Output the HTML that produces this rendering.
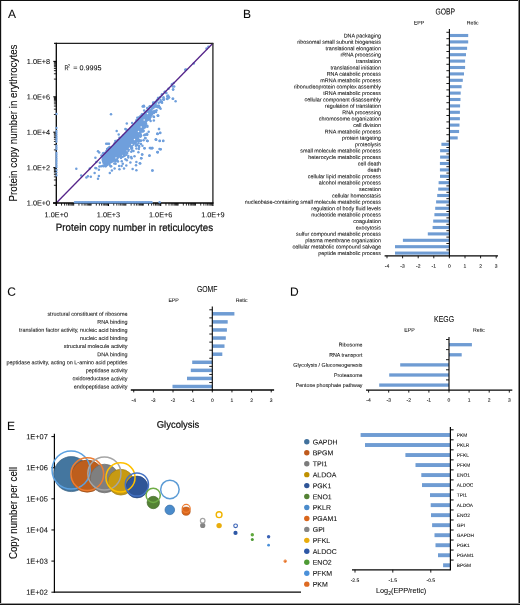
<!DOCTYPE html>
<html><head><meta charset="utf-8"><style>
html,body{margin:0;padding:0;background:#fff;}
svg{display:block;will-change:transform;font-family:"Liberation Sans",sans-serif;}
text{stroke:#0a0a0a;stroke-width:0.06px;}
</style></head><body>
<svg width="520" height="605" viewBox="0 0 520 605">
<rect x="0" y="0" width="520" height="605" fill="#fff"/>
<rect x="0" y="0" width="520" height="1" fill="#111"/>
<rect x="0" y="0" width="1" height="605" fill="#111"/>
<rect x="1" y="1" width="0.4" height="604" fill="#999"/>
<rect x="518" y="0" width="1" height="605" fill="#888"/>
<rect x="519" y="0" width="1" height="605" fill="#111"/>
<rect x="0" y="603" width="520" height="1" fill="#999"/>
<rect x="0" y="604" width="520" height="1" fill="#111"/>
<text x="7.9" y="18.1" font-size="12" text-anchor="start" fill="#0a0a0a" transform="matrix(1 0.000873 0 1 0 -0.0069)">A</text>
<text x="243" y="18" font-size="12" text-anchor="start" fill="#0a0a0a" transform="matrix(1 0.000873 0 1 0 -0.2121)">B</text>
<text x="7.3" y="295.85" font-size="12" text-anchor="start" fill="#0a0a0a" transform="matrix(1 0.000873 0 1 0 -0.0064)">C</text>
<text x="290.1" y="295.85" font-size="12" text-anchor="start" fill="#0a0a0a" transform="matrix(1 0.000873 0 1 0 -0.2532)">D</text>
<text x="7.1" y="430.1" font-size="12" text-anchor="start" fill="#0a0a0a" transform="matrix(1 0.000873 0 1 0 -0.0062)">E</text>
<polygon points="102,155.8 158.5,98.3 156.5,102 153.5,105 153,108 151.5,112 151.5,115.5 148.5,118 147.5,121.5 145,125 144,128.7 141.5,133 139.5,137.5 137,141.5 134,145.5 130.5,148.7 128.5,151.5 125,154.4 121.5,157 116,160.5 112,163 108,165 105,166 102.5,163.5 101.5,160 101.6,157.5" fill="#6f9fdc"/>
<circle cx="208.3" cy="46.7" r="1.25" fill="#6f9fdc" stroke="none" stroke-width="1"/>
<circle cx="206.5" cy="48.5" r="1.25" fill="#6f9fdc" stroke="none" stroke-width="1"/>
<circle cx="193.8" cy="63.5" r="1.25" fill="#6f9fdc" stroke="none" stroke-width="1"/>
<circle cx="185.2" cy="69.8" r="1.25" fill="#6f9fdc" stroke="none" stroke-width="1"/>
<circle cx="186" cy="69.4" r="1.25" fill="#6f9fdc" stroke="none" stroke-width="1"/>
<circle cx="171.9" cy="84.2" r="1.25" fill="#6f9fdc" stroke="none" stroke-width="1"/>
<circle cx="173.7" cy="83.1" r="1.25" fill="#6f9fdc" stroke="none" stroke-width="1"/>
<circle cx="174.2" cy="86.5" r="1.25" fill="#6f9fdc" stroke="none" stroke-width="1"/>
<circle cx="173.1" cy="89.4" r="1.25" fill="#6f9fdc" stroke="none" stroke-width="1"/>
<circle cx="168.5" cy="88.8" r="1.25" fill="#6f9fdc" stroke="none" stroke-width="1"/>
<circle cx="165" cy="91.7" r="1.25" fill="#6f9fdc" stroke="none" stroke-width="1"/>
<circle cx="166.2" cy="92.9" r="1.25" fill="#6f9fdc" stroke="none" stroke-width="1"/>
<circle cx="162.1" cy="94.6" r="1.25" fill="#6f9fdc" stroke="none" stroke-width="1"/>
<circle cx="167.9" cy="95.8" r="1.25" fill="#6f9fdc" stroke="none" stroke-width="1"/>
<circle cx="169" cy="97.5" r="1.25" fill="#6f9fdc" stroke="none" stroke-width="1"/>
<circle cx="167.3" cy="98.7" r="1.25" fill="#6f9fdc" stroke="none" stroke-width="1"/>
<circle cx="173.1" cy="98.7" r="1.25" fill="#6f9fdc" stroke="none" stroke-width="1"/>
<circle cx="175.6" cy="101.3" r="1.25" fill="#6f9fdc" stroke="none" stroke-width="1"/>
<circle cx="161.5" cy="101.5" r="1.25" fill="#6f9fdc" stroke="none" stroke-width="1"/>
<circle cx="163.3" cy="99.2" r="1.25" fill="#6f9fdc" stroke="none" stroke-width="1"/>
<circle cx="158.1" cy="98.1" r="1.25" fill="#6f9fdc" stroke="none" stroke-width="1"/>
<circle cx="160.4" cy="96.9" r="1.25" fill="#6f9fdc" stroke="none" stroke-width="1"/>
<circle cx="155.8" cy="102.7" r="1.25" fill="#6f9fdc" stroke="none" stroke-width="1"/>
<circle cx="156.9" cy="100.4" r="1.25" fill="#6f9fdc" stroke="none" stroke-width="1"/>
<circle cx="167.3" cy="96.2" r="1.25" fill="#6f9fdc" stroke="none" stroke-width="1"/>
<circle cx="168.5" cy="97.3" r="1.25" fill="#6f9fdc" stroke="none" stroke-width="1"/>
<circle cx="167.3" cy="99" r="1.25" fill="#6f9fdc" stroke="none" stroke-width="1"/>
<circle cx="163.8" cy="99.6" r="1.25" fill="#6f9fdc" stroke="none" stroke-width="1"/>
<circle cx="161.5" cy="101.9" r="1.25" fill="#6f9fdc" stroke="none" stroke-width="1"/>
<circle cx="158.7" cy="106" r="1.25" fill="#6f9fdc" stroke="none" stroke-width="1"/>
<circle cx="159.8" cy="107.7" r="1.25" fill="#6f9fdc" stroke="none" stroke-width="1"/>
<circle cx="154.6" cy="111.7" r="1.25" fill="#6f9fdc" stroke="none" stroke-width="1"/>
<circle cx="158.1" cy="115.8" r="1.25" fill="#6f9fdc" stroke="none" stroke-width="1"/>
<circle cx="154" cy="116.9" r="1.25" fill="#6f9fdc" stroke="none" stroke-width="1"/>
<circle cx="150.6" cy="121" r="1.25" fill="#6f9fdc" stroke="none" stroke-width="1"/>
<circle cx="159" cy="129" r="1.25" fill="#6f9fdc" stroke="none" stroke-width="1"/>
<circle cx="160.2" cy="132.8" r="1.25" fill="#6f9fdc" stroke="none" stroke-width="1"/>
<circle cx="157.5" cy="133.7" r="1.25" fill="#6f9fdc" stroke="none" stroke-width="1"/>
<circle cx="155.8" cy="139.4" r="1.25" fill="#6f9fdc" stroke="none" stroke-width="1"/>
<circle cx="159.8" cy="140.8" r="1.25" fill="#6f9fdc" stroke="none" stroke-width="1"/>
<circle cx="163.3" cy="140.8" r="1.25" fill="#6f9fdc" stroke="none" stroke-width="1"/>
<circle cx="152.3" cy="148.1" r="1.25" fill="#6f9fdc" stroke="none" stroke-width="1"/>
<circle cx="150.6" cy="148.1" r="1.25" fill="#6f9fdc" stroke="none" stroke-width="1"/>
<circle cx="160.6" cy="149.2" r="1.25" fill="#6f9fdc" stroke="none" stroke-width="1"/>
<circle cx="157.5" cy="152.1" r="1.25" fill="#6f9fdc" stroke="none" stroke-width="1"/>
<circle cx="143.2" cy="106.3" r="1.25" fill="#6f9fdc" stroke="none" stroke-width="1"/>
<circle cx="144.1" cy="106.5" r="1.25" fill="#6f9fdc" stroke="none" stroke-width="1"/>
<circle cx="111" cy="114.2" r="1.25" fill="#6f9fdc" stroke="none" stroke-width="1"/>
<circle cx="126.8" cy="123.4" r="1.25" fill="#6f9fdc" stroke="none" stroke-width="1"/>
<circle cx="116.7" cy="131" r="1.25" fill="#6f9fdc" stroke="none" stroke-width="1"/>
<circle cx="125.4" cy="129.1" r="1.25" fill="#6f9fdc" stroke="none" stroke-width="1"/>
<circle cx="118.7" cy="134.4" r="1.25" fill="#6f9fdc" stroke="none" stroke-width="1"/>
<circle cx="132.1" cy="122.9" r="1.25" fill="#6f9fdc" stroke="none" stroke-width="1"/>
<circle cx="138.8" cy="117.6" r="1.25" fill="#6f9fdc" stroke="none" stroke-width="1"/>
<circle cx="141.7" cy="114.7" r="1.25" fill="#6f9fdc" stroke="none" stroke-width="1"/>
<circle cx="147.5" cy="108.5" r="1.25" fill="#6f9fdc" stroke="none" stroke-width="1"/>
<circle cx="150.4" cy="106.5" r="1.25" fill="#6f9fdc" stroke="none" stroke-width="1"/>
<circle cx="158.1" cy="115.7" r="1.25" fill="#6f9fdc" stroke="none" stroke-width="1"/>
<circle cx="159" cy="129.1" r="1.25" fill="#6f9fdc" stroke="none" stroke-width="1"/>
<circle cx="157.6" cy="133.9" r="1.25" fill="#6f9fdc" stroke="none" stroke-width="1"/>
<circle cx="156.2" cy="139.7" r="1.25" fill="#6f9fdc" stroke="none" stroke-width="1"/>
<circle cx="147" cy="134.4" r="1.25" fill="#6f9fdc" stroke="none" stroke-width="1"/>
<circle cx="145.1" cy="138.3" r="1.25" fill="#6f9fdc" stroke="none" stroke-width="1"/>
<circle cx="147" cy="140.7" r="1.25" fill="#6f9fdc" stroke="none" stroke-width="1"/>
<circle cx="154.2" cy="112.3" r="1.25" fill="#6f9fdc" stroke="none" stroke-width="1"/>
<circle cx="155" cy="111.5" r="1.25" fill="#6f9fdc" stroke="none" stroke-width="1"/>
<circle cx="147.5" cy="141" r="1.25" fill="#6f9fdc" stroke="none" stroke-width="1"/>
<circle cx="144.6" cy="148.2" r="1.25" fill="#6f9fdc" stroke="none" stroke-width="1"/>
<circle cx="150.9" cy="148.2" r="1.25" fill="#6f9fdc" stroke="none" stroke-width="1"/>
<circle cx="152" cy="148.2" r="1.25" fill="#6f9fdc" stroke="none" stroke-width="1"/>
<circle cx="159.5" cy="149.1" r="1.25" fill="#6f9fdc" stroke="none" stroke-width="1"/>
<circle cx="138.8" cy="149.1" r="1.25" fill="#6f9fdc" stroke="none" stroke-width="1"/>
<circle cx="138.4" cy="152.3" r="1.25" fill="#6f9fdc" stroke="none" stroke-width="1"/>
<circle cx="142.2" cy="154.6" r="1.25" fill="#6f9fdc" stroke="none" stroke-width="1"/>
<circle cx="149.4" cy="155.7" r="1.25" fill="#6f9fdc" stroke="none" stroke-width="1"/>
<circle cx="157.6" cy="152.2" r="1.25" fill="#6f9fdc" stroke="none" stroke-width="1"/>
<circle cx="134.5" cy="156.3" r="1.25" fill="#6f9fdc" stroke="none" stroke-width="1"/>
<circle cx="131.2" cy="157.1" r="1.25" fill="#6f9fdc" stroke="none" stroke-width="1"/>
<circle cx="128.3" cy="157.6" r="1.25" fill="#6f9fdc" stroke="none" stroke-width="1"/>
<circle cx="125.4" cy="159.2" r="1.25" fill="#6f9fdc" stroke="none" stroke-width="1"/>
<circle cx="126.8" cy="160.2" r="1.25" fill="#6f9fdc" stroke="none" stroke-width="1"/>
<circle cx="141.3" cy="158.3" r="1.25" fill="#6f9fdc" stroke="none" stroke-width="1"/>
<circle cx="136.4" cy="162.1" r="1.25" fill="#6f9fdc" stroke="none" stroke-width="1"/>
<circle cx="139.8" cy="163.3" r="1.25" fill="#6f9fdc" stroke="none" stroke-width="1"/>
<circle cx="130.4" cy="162.6" r="1.25" fill="#6f9fdc" stroke="none" stroke-width="1"/>
<circle cx="136" cy="165.3" r="1.25" fill="#6f9fdc" stroke="none" stroke-width="1"/>
<circle cx="126.3" cy="165.5" r="1.25" fill="#6f9fdc" stroke="none" stroke-width="1"/>
<circle cx="119.1" cy="166" r="1.25" fill="#6f9fdc" stroke="none" stroke-width="1"/>
<circle cx="124" cy="168.6" r="1.25" fill="#6f9fdc" stroke="none" stroke-width="1"/>
<circle cx="132.6" cy="169" r="1.25" fill="#6f9fdc" stroke="none" stroke-width="1"/>
<circle cx="136.4" cy="170.3" r="1.25" fill="#6f9fdc" stroke="none" stroke-width="1"/>
<circle cx="111.9" cy="170.6" r="1.25" fill="#6f9fdc" stroke="none" stroke-width="1"/>
<circle cx="152.3" cy="170.6" r="1.25" fill="#6f9fdc" stroke="none" stroke-width="1"/>
<circle cx="106.2" cy="143.7" r="1.25" fill="#6f9fdc" stroke="none" stroke-width="1"/>
<circle cx="107.6" cy="143.7" r="1.25" fill="#6f9fdc" stroke="none" stroke-width="1"/>
<circle cx="109" cy="143.7" r="1.25" fill="#6f9fdc" stroke="none" stroke-width="1"/>
<circle cx="107.1" cy="149.1" r="1.25" fill="#6f9fdc" stroke="none" stroke-width="1"/>
<circle cx="98" cy="151.3" r="1.25" fill="#6f9fdc" stroke="none" stroke-width="1"/>
<circle cx="99.2" cy="152.5" r="1.25" fill="#6f9fdc" stroke="none" stroke-width="1"/>
<circle cx="95.4" cy="157.8" r="1.25" fill="#6f9fdc" stroke="none" stroke-width="1"/>
<circle cx="96.3" cy="161.9" r="1.25" fill="#6f9fdc" stroke="none" stroke-width="1"/>
<circle cx="99.9" cy="162.8" r="1.25" fill="#6f9fdc" stroke="none" stroke-width="1"/>
<circle cx="99.4" cy="166.4" r="1.25" fill="#6f9fdc" stroke="none" stroke-width="1"/>
<circle cx="95.4" cy="167.9" r="1.25" fill="#6f9fdc" stroke="none" stroke-width="1"/>
<circle cx="96.2" cy="168.2" r="1.25" fill="#6f9fdc" stroke="none" stroke-width="1"/>
<circle cx="98.9" cy="169.8" r="1.25" fill="#6f9fdc" stroke="none" stroke-width="1"/>
<circle cx="89.8" cy="168.4" r="1.25" fill="#6f9fdc" stroke="none" stroke-width="1"/>
<circle cx="76.3" cy="168.8" r="1.25" fill="#6f9fdc" stroke="none" stroke-width="1"/>
<circle cx="94.6" cy="173" r="1.25" fill="#6f9fdc" stroke="none" stroke-width="1"/>
<circle cx="81.2" cy="175.6" r="1.25" fill="#6f9fdc" stroke="none" stroke-width="1"/>
<circle cx="87.9" cy="176.3" r="1.25" fill="#6f9fdc" stroke="none" stroke-width="1"/>
<circle cx="86.4" cy="177.5" r="1.25" fill="#6f9fdc" stroke="none" stroke-width="1"/>
<circle cx="90.8" cy="176.8" r="1.25" fill="#6f9fdc" stroke="none" stroke-width="1"/>
<circle cx="98.9" cy="176.1" r="1.25" fill="#6f9fdc" stroke="none" stroke-width="1"/>
<circle cx="98" cy="178.7" r="1.25" fill="#6f9fdc" stroke="none" stroke-width="1"/>
<circle cx="148.7" cy="131.7" r="1.25" fill="#6f9fdc" stroke="none" stroke-width="1"/>
<circle cx="147.2" cy="134.8" r="1.25" fill="#6f9fdc" stroke="none" stroke-width="1"/>
<circle cx="157.3" cy="133.8" r="1.25" fill="#6f9fdc" stroke="none" stroke-width="1"/>
<circle cx="160.2" cy="132.9" r="1.25" fill="#6f9fdc" stroke="none" stroke-width="1"/>
<circle cx="145.5" cy="138.1" r="1.25" fill="#6f9fdc" stroke="none" stroke-width="1"/>
<circle cx="147.5" cy="141" r="1.25" fill="#6f9fdc" stroke="none" stroke-width="1"/>
<circle cx="155.9" cy="139.6" r="1.25" fill="#6f9fdc" stroke="none" stroke-width="1"/>
<circle cx="159.6" cy="141" r="1.25" fill="#6f9fdc" stroke="none" stroke-width="1"/>
<circle cx="163.1" cy="141" r="1.25" fill="#6f9fdc" stroke="none" stroke-width="1"/>
<circle cx="140.6" cy="141" r="1.25" fill="#6f9fdc" stroke="none" stroke-width="1"/>
<circle cx="144.4" cy="148.2" r="1.25" fill="#6f9fdc" stroke="none" stroke-width="1"/>
<circle cx="149.8" cy="147.9" r="1.25" fill="#6f9fdc" stroke="none" stroke-width="1"/>
<circle cx="152.1" cy="147.9" r="1.25" fill="#6f9fdc" stroke="none" stroke-width="1"/>
<circle cx="160.5" cy="149.3" r="1.25" fill="#6f9fdc" stroke="none" stroke-width="1"/>
<circle cx="157.7" cy="152.2" r="1.25" fill="#6f9fdc" stroke="none" stroke-width="1"/>
<circle cx="142.1" cy="154.5" r="1.25" fill="#6f9fdc" stroke="none" stroke-width="1"/>
<circle cx="149.5" cy="155.6" r="1.25" fill="#6f9fdc" stroke="none" stroke-width="1"/>
<circle cx="141.2" cy="158.3" r="1.25" fill="#6f9fdc" stroke="none" stroke-width="1"/>
<circle cx="140.2" cy="163.5" r="1.25" fill="#6f9fdc" stroke="none" stroke-width="1"/>
<circle cx="152.5" cy="170.6" r="1.25" fill="#6f9fdc" stroke="none" stroke-width="1"/>
<circle cx="172.7" cy="86.5" r="1.25" fill="#6f9fdc" stroke="none" stroke-width="1"/>
<circle cx="173.1" cy="89.6" r="1.25" fill="#6f9fdc" stroke="none" stroke-width="1"/>
<circle cx="164.6" cy="91.9" r="1.25" fill="#6f9fdc" stroke="none" stroke-width="1"/>
<circle cx="166.2" cy="93.1" r="1.25" fill="#6f9fdc" stroke="none" stroke-width="1"/>
<circle cx="161.9" cy="94.6" r="1.25" fill="#6f9fdc" stroke="none" stroke-width="1"/>
<circle cx="168.1" cy="95.8" r="1.25" fill="#6f9fdc" stroke="none" stroke-width="1"/>
<circle cx="168.8" cy="97.3" r="1.25" fill="#6f9fdc" stroke="none" stroke-width="1"/>
<circle cx="163.5" cy="97.3" r="1.25" fill="#6f9fdc" stroke="none" stroke-width="1"/>
<circle cx="166.9" cy="98.8" r="1.25" fill="#6f9fdc" stroke="none" stroke-width="1"/>
<circle cx="163.8" cy="99.6" r="1.25" fill="#6f9fdc" stroke="none" stroke-width="1"/>
<circle cx="172.7" cy="98.8" r="1.25" fill="#6f9fdc" stroke="none" stroke-width="1"/>
<circle cx="161.5" cy="101.9" r="1.25" fill="#6f9fdc" stroke="none" stroke-width="1"/>
<circle cx="158.1" cy="98.8" r="1.25" fill="#6f9fdc" stroke="none" stroke-width="1"/>
<circle cx="158.8" cy="105.8" r="1.25" fill="#6f9fdc" stroke="none" stroke-width="1"/>
<circle cx="159.6" cy="107.3" r="1.25" fill="#6f9fdc" stroke="none" stroke-width="1"/>
<circle cx="143.8" cy="105.8" r="1.25" fill="#6f9fdc" stroke="none" stroke-width="1"/>
<circle cx="142.7" cy="106.5" r="1.25" fill="#6f9fdc" stroke="none" stroke-width="1"/>
<circle cx="147.3" cy="108.1" r="1.25" fill="#6f9fdc" stroke="none" stroke-width="1"/>
<circle cx="144.2" cy="110.4" r="1.25" fill="#6f9fdc" stroke="none" stroke-width="1"/>
<circle cx="149.6" cy="106.5" r="1.25" fill="#6f9fdc" stroke="none" stroke-width="1"/>
<circle cx="154.6" cy="111.5" r="1.25" fill="#6f9fdc" stroke="none" stroke-width="1"/>
<circle cx="153.5" cy="116.5" r="1.25" fill="#6f9fdc" stroke="none" stroke-width="1"/>
<circle cx="157.7" cy="115.6" r="1.25" fill="#6f9fdc" stroke="none" stroke-width="1"/>
<circle cx="137.3" cy="117.7" r="1.25" fill="#6f9fdc" stroke="none" stroke-width="1"/>
<circle cx="141.2" cy="126.9" r="0.75" fill="#fff" stroke="none" stroke-width="1"/>
<circle cx="138.5" cy="131.5" r="0.75" fill="#fff" stroke="none" stroke-width="1"/>
<circle cx="134.5" cy="139.5" r="0.75" fill="#fff" stroke="none" stroke-width="1"/>
<circle cx="131.9" cy="144.6" r="0.75" fill="#fff" stroke="none" stroke-width="1"/>
<circle cx="127.3" cy="150.8" r="0.75" fill="#fff" stroke="none" stroke-width="1"/>
<circle cx="144.2" cy="120" r="0.75" fill="#fff" stroke="none" stroke-width="1"/>
<circle cx="140.2" cy="134.6" r="0.75" fill="#fff" stroke="none" stroke-width="1"/>
<circle cx="122.7" cy="155.4" r="0.75" fill="#fff" stroke="none" stroke-width="1"/>
<circle cx="116" cy="157.9" r="0.75" fill="#fff" stroke="none" stroke-width="1"/>
<circle cx="147.5" cy="113.5" r="0.75" fill="#fff" stroke="none" stroke-width="1"/>
<circle cx="150.5" cy="108.5" r="0.75" fill="#fff" stroke="none" stroke-width="1"/>
<circle cx="136.2" cy="143.3" r="0.75" fill="#fff" stroke="none" stroke-width="1"/>
<circle cx="129.5" cy="148.2" r="0.75" fill="#fff" stroke="none" stroke-width="1"/>
<circle cx="119.5" cy="158.4" r="0.75" fill="#fff" stroke="none" stroke-width="1"/>
<circle cx="119.45" cy="137.66" r="1.25" fill="#6f9fdc" stroke="none" stroke-width="1"/>
<circle cx="104.83" cy="152.9" r="1.25" fill="#6f9fdc" stroke="none" stroke-width="1"/>
<circle cx="103.86" cy="153.05" r="1.25" fill="#6f9fdc" stroke="none" stroke-width="1"/>
<circle cx="126.06" cy="129.43" r="1.25" fill="#6f9fdc" stroke="none" stroke-width="1"/>
<circle cx="127.39" cy="130.08" r="1.25" fill="#6f9fdc" stroke="none" stroke-width="1"/>
<circle cx="114.41" cy="144.7" r="1.25" fill="#6f9fdc" stroke="none" stroke-width="1"/>
<circle cx="135.77" cy="122.39" r="1.25" fill="#6f9fdc" stroke="none" stroke-width="1"/>
<circle cx="104.03" cy="154.36" r="1.25" fill="#6f9fdc" stroke="none" stroke-width="1"/>
<circle cx="108.24" cy="148.22" r="1.25" fill="#6f9fdc" stroke="none" stroke-width="1"/>
<circle cx="150.05" cy="106.37" r="1.25" fill="#6f9fdc" stroke="none" stroke-width="1"/>
<circle cx="139.54" cy="117.5" r="1.25" fill="#6f9fdc" stroke="none" stroke-width="1"/>
<circle cx="103.04" cy="153.14" r="1.25" fill="#6f9fdc" stroke="none" stroke-width="1"/>
<circle cx="142.25" cy="114.34" r="1.25" fill="#6f9fdc" stroke="none" stroke-width="1"/>
<circle cx="136.44" cy="120.3" r="1.25" fill="#6f9fdc" stroke="none" stroke-width="1"/>
<circle cx="150" cy="106.97" r="1.25" fill="#6f9fdc" stroke="none" stroke-width="1"/>
<circle cx="135.93" cy="122.33" r="1.25" fill="#6f9fdc" stroke="none" stroke-width="1"/>
<circle cx="144.95" cy="112.77" r="1.25" fill="#6f9fdc" stroke="none" stroke-width="1"/>
<circle cx="107.37" cy="150.91" r="1.25" fill="#6f9fdc" stroke="none" stroke-width="1"/>
<circle cx="109.65" cy="147.12" r="1.25" fill="#6f9fdc" stroke="none" stroke-width="1"/>
<circle cx="142.34" cy="115.7" r="1.25" fill="#6f9fdc" stroke="none" stroke-width="1"/>
<circle cx="154.06" cy="102.88" r="1.25" fill="#6f9fdc" stroke="none" stroke-width="1"/>
<circle cx="137.3" cy="120.1" r="1.25" fill="#6f9fdc" stroke="none" stroke-width="1"/>
<circle cx="153.44" cy="104.62" r="1.25" fill="#6f9fdc" stroke="none" stroke-width="1"/>
<circle cx="140.33" cy="116.26" r="1.25" fill="#6f9fdc" stroke="none" stroke-width="1"/>
<circle cx="141.6" cy="117.61" r="1.25" fill="#6f9fdc" stroke="none" stroke-width="1"/>
<circle cx="117.61" cy="140.18" r="1.25" fill="#6f9fdc" stroke="none" stroke-width="1"/>
<circle cx="101.55" cy="155.59" r="1.25" fill="#6f9fdc" stroke="none" stroke-width="1"/>
<circle cx="106.41" cy="151" r="1.25" fill="#6f9fdc" stroke="none" stroke-width="1"/>
<circle cx="107.64" cy="149.36" r="1.25" fill="#6f9fdc" stroke="none" stroke-width="1"/>
<circle cx="153.23" cy="102.57" r="1.25" fill="#6f9fdc" stroke="none" stroke-width="1"/>
<circle cx="135.27" cy="123.78" r="1.25" fill="#6f9fdc" stroke="none" stroke-width="1"/>
<circle cx="153.26" cy="102.96" r="1.25" fill="#6f9fdc" stroke="none" stroke-width="1"/>
<circle cx="123.45" cy="136.15" r="1.25" fill="#6f9fdc" stroke="none" stroke-width="1"/>
<circle cx="108.8" cy="147.63" r="1.25" fill="#6f9fdc" stroke="none" stroke-width="1"/>
<circle cx="114.68" cy="143.24" r="1.25" fill="#6f9fdc" stroke="none" stroke-width="1"/>
<circle cx="115.3" cy="140.99" r="1.25" fill="#6f9fdc" stroke="none" stroke-width="1"/>
<circle cx="123.31" cy="135.48" r="1.25" fill="#6f9fdc" stroke="none" stroke-width="1"/>
<circle cx="143.1" cy="114.4" r="1.25" fill="#6f9fdc" stroke="none" stroke-width="1"/>
<circle cx="141.06" cy="115.95" r="1.25" fill="#6f9fdc" stroke="none" stroke-width="1"/>
<circle cx="149.54" cy="109.15" r="1.25" fill="#6f9fdc" stroke="none" stroke-width="1"/>
<circle cx="143.2" cy="130.51" r="1.25" fill="#6f9fdc" stroke="none" stroke-width="1"/>
<circle cx="154.48" cy="106.47" r="1.25" fill="#6f9fdc" stroke="none" stroke-width="1"/>
<circle cx="154.87" cy="102.7" r="1.25" fill="#6f9fdc" stroke="none" stroke-width="1"/>
<circle cx="150.93" cy="115.4" r="1.25" fill="#6f9fdc" stroke="none" stroke-width="1"/>
<circle cx="144.1" cy="125.66" r="1.25" fill="#6f9fdc" stroke="none" stroke-width="1"/>
<circle cx="158.07" cy="98.09" r="1.25" fill="#6f9fdc" stroke="none" stroke-width="1"/>
<circle cx="153.42" cy="106.1" r="1.25" fill="#6f9fdc" stroke="none" stroke-width="1"/>
<circle cx="160.3" cy="102" r="1.25" fill="#6f9fdc" stroke="none" stroke-width="1"/>
<circle cx="131.32" cy="147.3" r="1.25" fill="#6f9fdc" stroke="none" stroke-width="1"/>
<circle cx="148.4" cy="118.55" r="1.25" fill="#6f9fdc" stroke="none" stroke-width="1"/>
<circle cx="143.66" cy="127.89" r="1.25" fill="#6f9fdc" stroke="none" stroke-width="1"/>
<circle cx="119.43" cy="169.15" r="1.25" fill="#6f9fdc" stroke="none" stroke-width="1"/>
<circle cx="140.39" cy="136.79" r="1.25" fill="#6f9fdc" stroke="none" stroke-width="1"/>
<circle cx="153.35" cy="104.32" r="1.25" fill="#6f9fdc" stroke="none" stroke-width="1"/>
<circle cx="144.53" cy="126.03" r="1.25" fill="#6f9fdc" stroke="none" stroke-width="1"/>
<circle cx="115.94" cy="160.01" r="1.25" fill="#6f9fdc" stroke="none" stroke-width="1"/>
<circle cx="162.07" cy="102.7" r="1.25" fill="#6f9fdc" stroke="none" stroke-width="1"/>
<circle cx="136.54" cy="141.31" r="1.25" fill="#6f9fdc" stroke="none" stroke-width="1"/>
<circle cx="135.49" cy="142.28" r="1.25" fill="#6f9fdc" stroke="none" stroke-width="1"/>
<circle cx="142.44" cy="145.72" r="1.25" fill="#6f9fdc" stroke="none" stroke-width="1"/>
<circle cx="114.27" cy="163.45" r="1.25" fill="#6f9fdc" stroke="none" stroke-width="1"/>
<circle cx="148.23" cy="119.37" r="1.25" fill="#6f9fdc" stroke="none" stroke-width="1"/>
<circle cx="153.54" cy="112.71" r="1.25" fill="#6f9fdc" stroke="none" stroke-width="1"/>
<circle cx="138.46" cy="143.26" r="1.25" fill="#6f9fdc" stroke="none" stroke-width="1"/>
<circle cx="144.82" cy="124.74" r="1.25" fill="#6f9fdc" stroke="none" stroke-width="1"/>
<circle cx="121.63" cy="165.91" r="1.25" fill="#6f9fdc" stroke="none" stroke-width="1"/>
<circle cx="115.6" cy="163.68" r="1.25" fill="#6f9fdc" stroke="none" stroke-width="1"/>
<circle cx="118.03" cy="161.45" r="1.25" fill="#6f9fdc" stroke="none" stroke-width="1"/>
<circle cx="150.34" cy="117.33" r="1.25" fill="#6f9fdc" stroke="none" stroke-width="1"/>
<circle cx="143.68" cy="127.06" r="1.25" fill="#6f9fdc" stroke="none" stroke-width="1"/>
<circle cx="157.12" cy="100.54" r="1.25" fill="#6f9fdc" stroke="none" stroke-width="1"/>
<circle cx="149.67" cy="119.59" r="1.25" fill="#6f9fdc" stroke="none" stroke-width="1"/>
<circle cx="105.65" cy="166.19" r="1.25" fill="#6f9fdc" stroke="none" stroke-width="1"/>
<circle cx="109.81" cy="172.88" r="1.25" fill="#6f9fdc" stroke="none" stroke-width="1"/>
<circle cx="105.69" cy="165.88" r="1.25" fill="#6f9fdc" stroke="none" stroke-width="1"/>
<circle cx="150.19" cy="116.22" r="1.25" fill="#6f9fdc" stroke="none" stroke-width="1"/>
<circle cx="151.16" cy="114.74" r="1.25" fill="#6f9fdc" stroke="none" stroke-width="1"/>
<circle cx="133.52" cy="151.1" r="1.25" fill="#6f9fdc" stroke="none" stroke-width="1"/>
<circle cx="115.52" cy="161.4" r="1.25" fill="#6f9fdc" stroke="none" stroke-width="1"/>
<circle cx="131.24" cy="151.82" r="1.25" fill="#6f9fdc" stroke="none" stroke-width="1"/>
<circle cx="154.8" cy="105.63" r="1.25" fill="#6f9fdc" stroke="none" stroke-width="1"/>
<circle cx="110.6" cy="166.21" r="1.25" fill="#6f9fdc" stroke="none" stroke-width="1"/>
<circle cx="122.68" cy="156.75" r="1.25" fill="#6f9fdc" stroke="none" stroke-width="1"/>
<circle cx="153.81" cy="113.03" r="1.25" fill="#6f9fdc" stroke="none" stroke-width="1"/>
<circle cx="147.3" cy="125.79" r="1.25" fill="#6f9fdc" stroke="none" stroke-width="1"/>
<circle cx="104.24" cy="165.53" r="1.25" fill="#6f9fdc" stroke="none" stroke-width="1"/>
<circle cx="146.97" cy="133.68" r="1.25" fill="#6f9fdc" stroke="none" stroke-width="1"/>
<circle cx="124.04" cy="154.58" r="1.25" fill="#6f9fdc" stroke="none" stroke-width="1"/>
<circle cx="152.4" cy="108.26" r="1.25" fill="#6f9fdc" stroke="none" stroke-width="1"/>
<circle cx="111.12" cy="166.22" r="1.25" fill="#6f9fdc" stroke="none" stroke-width="1"/>
<circle cx="154.74" cy="111.06" r="1.25" fill="#6f9fdc" stroke="none" stroke-width="1"/>
<circle cx="102.86" cy="165.76" r="1.25" fill="#6f9fdc" stroke="none" stroke-width="1"/>
<circle cx="145.28" cy="126.99" r="1.25" fill="#6f9fdc" stroke="none" stroke-width="1"/>
<circle cx="151.99" cy="108.51" r="1.25" fill="#6f9fdc" stroke="none" stroke-width="1"/>
<circle cx="103.52" cy="166.35" r="1.25" fill="#6f9fdc" stroke="none" stroke-width="1"/>
<circle cx="140.94" cy="143.93" r="1.25" fill="#6f9fdc" stroke="none" stroke-width="1"/>
<circle cx="144.16" cy="135.15" r="1.25" fill="#6f9fdc" stroke="none" stroke-width="1"/>
<circle cx="116.22" cy="159.98" r="1.25" fill="#6f9fdc" stroke="none" stroke-width="1"/>
<circle cx="148.26" cy="118.47" r="1.25" fill="#6f9fdc" stroke="none" stroke-width="1"/>
<circle cx="149.54" cy="118.39" r="1.25" fill="#6f9fdc" stroke="none" stroke-width="1"/>
<circle cx="148.44" cy="119.26" r="1.25" fill="#6f9fdc" stroke="none" stroke-width="1"/>
<circle cx="156.47" cy="110.19" r="1.25" fill="#6f9fdc" stroke="none" stroke-width="1"/>
<circle cx="144.85" cy="127.2" r="1.25" fill="#6f9fdc" stroke="none" stroke-width="1"/>
<circle cx="136.4" cy="148.58" r="1.25" fill="#6f9fdc" stroke="none" stroke-width="1"/>
<circle cx="145.3" cy="134.8" r="1.25" fill="#6f9fdc" stroke="none" stroke-width="1"/>
<circle cx="138.87" cy="139.87" r="1.25" fill="#6f9fdc" stroke="none" stroke-width="1"/>
<circle cx="136.52" cy="140.82" r="1.25" fill="#6f9fdc" stroke="none" stroke-width="1"/>
<circle cx="140.54" cy="134.19" r="1.25" fill="#6f9fdc" stroke="none" stroke-width="1"/>
<circle cx="160.44" cy="99.77" r="1.25" fill="#6f9fdc" stroke="none" stroke-width="1"/>
<circle cx="151.98" cy="112.45" r="1.25" fill="#6f9fdc" stroke="none" stroke-width="1"/>
<circle cx="124.75" cy="155.61" r="1.25" fill="#6f9fdc" stroke="none" stroke-width="1"/>
<circle cx="145.8" cy="125.02" r="1.25" fill="#6f9fdc" stroke="none" stroke-width="1"/>
<circle cx="137.2" cy="145.01" r="1.25" fill="#6f9fdc" stroke="none" stroke-width="1"/>
<circle cx="154.08" cy="106.65" r="1.25" fill="#6f9fdc" stroke="none" stroke-width="1"/>
<circle cx="148.3" cy="118.15" r="1.25" fill="#6f9fdc" stroke="none" stroke-width="1"/>
<circle cx="121" cy="158.05" r="1.25" fill="#6f9fdc" stroke="none" stroke-width="1"/>
<circle cx="136.68" cy="145.35" r="1.25" fill="#6f9fdc" stroke="none" stroke-width="1"/>
<circle cx="109.54" cy="164.65" r="1.25" fill="#6f9fdc" stroke="none" stroke-width="1"/>
<circle cx="132.16" cy="148.01" r="1.25" fill="#6f9fdc" stroke="none" stroke-width="1"/>
<circle cx="139.06" cy="141.15" r="1.25" fill="#6f9fdc" stroke="none" stroke-width="1"/>
<circle cx="141.09" cy="135.7" r="1.25" fill="#6f9fdc" stroke="none" stroke-width="1"/>
<circle cx="143.57" cy="140.19" r="1.25" fill="#6f9fdc" stroke="none" stroke-width="1"/>
<circle cx="128.33" cy="156.03" r="1.25" fill="#6f9fdc" stroke="none" stroke-width="1"/>
<circle cx="106.74" cy="165.21" r="1.25" fill="#6f9fdc" stroke="none" stroke-width="1"/>
<circle cx="139.11" cy="146.92" r="1.25" fill="#6f9fdc" stroke="none" stroke-width="1"/>
<circle cx="115.02" cy="160.52" r="1.25" fill="#6f9fdc" stroke="none" stroke-width="1"/>
<circle cx="153.37" cy="108.01" r="1.25" fill="#6f9fdc" stroke="none" stroke-width="1"/>
<circle cx="154.47" cy="103.67" r="1.25" fill="#6f9fdc" stroke="none" stroke-width="1"/>
<circle cx="155.61" cy="104.89" r="1.25" fill="#6f9fdc" stroke="none" stroke-width="1"/>
<circle cx="121.75" cy="161.28" r="1.25" fill="#6f9fdc" stroke="none" stroke-width="1"/>
<circle cx="153.54" cy="111.45" r="1.25" fill="#6f9fdc" stroke="none" stroke-width="1"/>
<circle cx="128.47" cy="150.69" r="1.25" fill="#6f9fdc" stroke="none" stroke-width="1"/>
<circle cx="114.57" cy="168.48" r="1.25" fill="#6f9fdc" stroke="none" stroke-width="1"/>
<circle cx="153.82" cy="120.46" r="1.25" fill="#6f9fdc" stroke="none" stroke-width="1"/>
<circle cx="143.2" cy="131.14" r="1.25" fill="#6f9fdc" stroke="none" stroke-width="1"/>
<circle cx="101.21" cy="166.13" r="1.25" fill="#6f9fdc" stroke="none" stroke-width="1"/>
<circle cx="152.01" cy="111.58" r="1.25" fill="#6f9fdc" stroke="none" stroke-width="1"/>
<circle cx="137.59" cy="140.61" r="1.25" fill="#6f9fdc" stroke="none" stroke-width="1"/>
<circle cx="151.47" cy="114.65" r="1.25" fill="#6f9fdc" stroke="none" stroke-width="1"/>
<circle cx="124.04" cy="154.17" r="1.25" fill="#6f9fdc" stroke="none" stroke-width="1"/>
<circle cx="135.76" cy="143.76" r="1.25" fill="#6f9fdc" stroke="none" stroke-width="1"/>
<circle cx="157.7" cy="99.8" r="1.25" fill="#6f9fdc" stroke="none" stroke-width="1"/>
<circle cx="131.38" cy="148.75" r="1.25" fill="#6f9fdc" stroke="none" stroke-width="1"/>
<circle cx="160.58" cy="108.68" r="1.25" fill="#6f9fdc" stroke="none" stroke-width="1"/>
<circle cx="122.79" cy="163.68" r="1.25" fill="#6f9fdc" stroke="none" stroke-width="1"/>
<circle cx="153.09" cy="106.36" r="1.25" fill="#6f9fdc" stroke="none" stroke-width="1"/>
<circle cx="158.68" cy="102.63" r="1.25" fill="#6f9fdc" stroke="none" stroke-width="1"/>
<circle cx="147.37" cy="120.04" r="1.25" fill="#6f9fdc" stroke="none" stroke-width="1"/>
<circle cx="145.1" cy="134.86" r="1.25" fill="#6f9fdc" stroke="none" stroke-width="1"/>
<circle cx="116.85" cy="159.72" r="1.25" fill="#6f9fdc" stroke="none" stroke-width="1"/>
<circle cx="156.06" cy="111.88" r="1.25" fill="#6f9fdc" stroke="none" stroke-width="1"/>
<circle cx="135.82" cy="145.75" r="1.25" fill="#6f9fdc" stroke="none" stroke-width="1"/>
<circle cx="153.04" cy="104.49" r="1.25" fill="#6f9fdc" stroke="none" stroke-width="1"/>
<circle cx="127.17" cy="153" r="1.25" fill="#6f9fdc" stroke="none" stroke-width="1"/>
<circle cx="158.03" cy="107.22" r="1.25" fill="#6f9fdc" stroke="none" stroke-width="1"/>
<circle cx="132.27" cy="150.42" r="1.25" fill="#6f9fdc" stroke="none" stroke-width="1"/>
<circle cx="156.08" cy="106.77" r="1.25" fill="#6f9fdc" stroke="none" stroke-width="1"/>
<circle cx="157.29" cy="105.7" r="1.25" fill="#6f9fdc" stroke="none" stroke-width="1"/>
<circle cx="140.4" cy="135.54" r="1.25" fill="#6f9fdc" stroke="none" stroke-width="1"/>
<circle cx="139.06" cy="146.12" r="1.25" fill="#6f9fdc" stroke="none" stroke-width="1"/>
<circle cx="147.44" cy="119.8" r="1.25" fill="#6f9fdc" stroke="none" stroke-width="1"/>
<circle cx="136.8" cy="141.35" r="1.25" fill="#6f9fdc" stroke="none" stroke-width="1"/>
<circle cx="152.75" cy="106.75" r="1.25" fill="#6f9fdc" stroke="none" stroke-width="1"/>
<circle cx="155.88" cy="102.13" r="1.25" fill="#6f9fdc" stroke="none" stroke-width="1"/>
<circle cx="145.97" cy="123.52" r="1.25" fill="#6f9fdc" stroke="none" stroke-width="1"/>
<circle cx="121.6" cy="156.78" r="1.25" fill="#6f9fdc" stroke="none" stroke-width="1"/>
<circle cx="137.99" cy="139.14" r="1.25" fill="#6f9fdc" stroke="none" stroke-width="1"/>
<circle cx="143.86" cy="126.28" r="1.25" fill="#6f9fdc" stroke="none" stroke-width="1"/>
<circle cx="147.65" cy="118.16" r="1.25" fill="#6f9fdc" stroke="none" stroke-width="1"/>
<circle cx="124.14" cy="156.03" r="1.25" fill="#6f9fdc" stroke="none" stroke-width="1"/>
<circle cx="151.99" cy="114.06" r="1.25" fill="#6f9fdc" stroke="none" stroke-width="1"/>
<circle cx="107.3" cy="164.63" r="1.25" fill="#6f9fdc" stroke="none" stroke-width="1"/>
<circle cx="117.14" cy="160.17" r="1.25" fill="#6f9fdc" stroke="none" stroke-width="1"/>
<circle cx="140.96" cy="140.44" r="1.25" fill="#6f9fdc" stroke="none" stroke-width="1"/>
<circle cx="143.51" cy="130.76" r="1.25" fill="#6f9fdc" stroke="none" stroke-width="1"/>
<circle cx="131.65" cy="158.35" r="1.25" fill="#6f9fdc" stroke="none" stroke-width="1"/>
<circle cx="147.38" cy="126.81" r="1.25" fill="#6f9fdc" stroke="none" stroke-width="1"/>
<circle cx="126.41" cy="154.82" r="1.25" fill="#6f9fdc" stroke="none" stroke-width="1"/>
<circle cx="142.48" cy="131.43" r="1.25" fill="#6f9fdc" stroke="none" stroke-width="1"/>
<circle cx="155.49" cy="102.27" r="1.25" fill="#6f9fdc" stroke="none" stroke-width="1"/>
<line x1="56.3" y1="203" x2="212.9" y2="43.3" stroke="#56248a" stroke-width="1.3"/>
<line x1="54" y1="43.3" x2="213.4" y2="43.3" stroke="#222" stroke-width="1.2"/>
<line x1="212.9" y1="43.3" x2="212.9" y2="203" stroke="#333" stroke-width="1.4"/>
<line x1="56.3" y1="42.7" x2="56.3" y2="205.6" stroke="#050505" stroke-width="1.3"/>
<line x1="53" y1="203" x2="213.5" y2="203" stroke="#050505" stroke-width="1.3"/>
<line x1="53.3" y1="203" x2="56.3" y2="203" stroke="#050505" stroke-width="1.1"/>
<line x1="53.9" y1="185.3" x2="56.3" y2="185.3" stroke="#050505" stroke-width="0.85"/>
<line x1="53.9" y1="179.97" x2="56.3" y2="179.97" stroke="#050505" stroke-width="0.85"/>
<line x1="53.9" y1="176.85" x2="56.3" y2="176.85" stroke="#050505" stroke-width="0.85"/>
<line x1="53.9" y1="174.64" x2="56.3" y2="174.64" stroke="#050505" stroke-width="0.85"/>
<line x1="53.9" y1="172.93" x2="56.3" y2="172.93" stroke="#050505" stroke-width="0.85"/>
<line x1="53.9" y1="171.53" x2="56.3" y2="171.53" stroke="#050505" stroke-width="0.85"/>
<line x1="53.9" y1="170.34" x2="56.3" y2="170.34" stroke="#050505" stroke-width="0.85"/>
<line x1="53.9" y1="169.32" x2="56.3" y2="169.32" stroke="#050505" stroke-width="0.85"/>
<line x1="53.9" y1="168.41" x2="56.3" y2="168.41" stroke="#050505" stroke-width="0.85"/>
<line x1="53.3" y1="167.6" x2="56.3" y2="167.6" stroke="#050505" stroke-width="1.1"/>
<line x1="53.9" y1="149.9" x2="56.3" y2="149.9" stroke="#050505" stroke-width="0.85"/>
<line x1="53.9" y1="144.57" x2="56.3" y2="144.57" stroke="#050505" stroke-width="0.85"/>
<line x1="53.9" y1="141.45" x2="56.3" y2="141.45" stroke="#050505" stroke-width="0.85"/>
<line x1="53.9" y1="139.24" x2="56.3" y2="139.24" stroke="#050505" stroke-width="0.85"/>
<line x1="53.9" y1="137.53" x2="56.3" y2="137.53" stroke="#050505" stroke-width="0.85"/>
<line x1="53.9" y1="136.13" x2="56.3" y2="136.13" stroke="#050505" stroke-width="0.85"/>
<line x1="53.9" y1="134.94" x2="56.3" y2="134.94" stroke="#050505" stroke-width="0.85"/>
<line x1="53.9" y1="133.92" x2="56.3" y2="133.92" stroke="#050505" stroke-width="0.85"/>
<line x1="53.9" y1="133.01" x2="56.3" y2="133.01" stroke="#050505" stroke-width="0.85"/>
<line x1="53.3" y1="132.2" x2="56.3" y2="132.2" stroke="#050505" stroke-width="1.1"/>
<line x1="53.9" y1="114.5" x2="56.3" y2="114.5" stroke="#050505" stroke-width="0.85"/>
<line x1="53.9" y1="109.17" x2="56.3" y2="109.17" stroke="#050505" stroke-width="0.85"/>
<line x1="53.9" y1="106.05" x2="56.3" y2="106.05" stroke="#050505" stroke-width="0.85"/>
<line x1="53.9" y1="103.84" x2="56.3" y2="103.84" stroke="#050505" stroke-width="0.85"/>
<line x1="53.9" y1="102.13" x2="56.3" y2="102.13" stroke="#050505" stroke-width="0.85"/>
<line x1="53.9" y1="100.73" x2="56.3" y2="100.73" stroke="#050505" stroke-width="0.85"/>
<line x1="53.9" y1="99.54" x2="56.3" y2="99.54" stroke="#050505" stroke-width="0.85"/>
<line x1="53.9" y1="98.52" x2="56.3" y2="98.52" stroke="#050505" stroke-width="0.85"/>
<line x1="53.9" y1="97.61" x2="56.3" y2="97.61" stroke="#050505" stroke-width="0.85"/>
<line x1="53.3" y1="96.8" x2="56.3" y2="96.8" stroke="#050505" stroke-width="1.1"/>
<line x1="53.9" y1="79.1" x2="56.3" y2="79.1" stroke="#050505" stroke-width="0.85"/>
<line x1="53.9" y1="73.77" x2="56.3" y2="73.77" stroke="#050505" stroke-width="0.85"/>
<line x1="53.9" y1="70.65" x2="56.3" y2="70.65" stroke="#050505" stroke-width="0.85"/>
<line x1="53.9" y1="68.44" x2="56.3" y2="68.44" stroke="#050505" stroke-width="0.85"/>
<line x1="53.9" y1="66.73" x2="56.3" y2="66.73" stroke="#050505" stroke-width="0.85"/>
<line x1="53.9" y1="65.33" x2="56.3" y2="65.33" stroke="#050505" stroke-width="0.85"/>
<line x1="53.9" y1="64.14" x2="56.3" y2="64.14" stroke="#050505" stroke-width="0.85"/>
<line x1="53.9" y1="63.12" x2="56.3" y2="63.12" stroke="#050505" stroke-width="0.85"/>
<line x1="53.9" y1="62.21" x2="56.3" y2="62.21" stroke="#050505" stroke-width="0.85"/>
<line x1="53.3" y1="61.4" x2="56.3" y2="61.4" stroke="#050505" stroke-width="1.1"/>
<line x1="56.3" y1="203" x2="56.3" y2="206" stroke="#050505" stroke-width="1.1"/>
<line x1="61.54" y1="203" x2="61.54" y2="205.6" stroke="#050505" stroke-width="0.85"/>
<line x1="64.6" y1="203" x2="64.6" y2="205.6" stroke="#050505" stroke-width="0.85"/>
<line x1="66.78" y1="203" x2="66.78" y2="205.6" stroke="#050505" stroke-width="0.85"/>
<line x1="68.46" y1="203" x2="68.46" y2="205.6" stroke="#050505" stroke-width="0.85"/>
<line x1="69.84" y1="203" x2="69.84" y2="205.6" stroke="#050505" stroke-width="0.85"/>
<line x1="71" y1="203" x2="71" y2="205.6" stroke="#050505" stroke-width="0.85"/>
<line x1="72.01" y1="203" x2="72.01" y2="205.6" stroke="#050505" stroke-width="0.85"/>
<line x1="72.9" y1="203" x2="72.9" y2="205.6" stroke="#050505" stroke-width="0.85"/>
<line x1="73.7" y1="203" x2="73.7" y2="205.6" stroke="#050505" stroke-width="0.85"/>
<line x1="78.94" y1="203" x2="78.94" y2="205.6" stroke="#050505" stroke-width="0.85"/>
<line x1="82" y1="203" x2="82" y2="205.6" stroke="#050505" stroke-width="0.85"/>
<line x1="84.18" y1="203" x2="84.18" y2="205.6" stroke="#050505" stroke-width="0.85"/>
<line x1="85.86" y1="203" x2="85.86" y2="205.6" stroke="#050505" stroke-width="0.85"/>
<line x1="87.24" y1="203" x2="87.24" y2="205.6" stroke="#050505" stroke-width="0.85"/>
<line x1="88.4" y1="203" x2="88.4" y2="205.6" stroke="#050505" stroke-width="0.85"/>
<line x1="89.41" y1="203" x2="89.41" y2="205.6" stroke="#050505" stroke-width="0.85"/>
<line x1="90.3" y1="203" x2="90.3" y2="205.6" stroke="#050505" stroke-width="0.85"/>
<line x1="91.1" y1="203" x2="91.1" y2="205.6" stroke="#050505" stroke-width="0.85"/>
<line x1="96.34" y1="203" x2="96.34" y2="205.6" stroke="#050505" stroke-width="0.85"/>
<line x1="99.4" y1="203" x2="99.4" y2="205.6" stroke="#050505" stroke-width="0.85"/>
<line x1="101.58" y1="203" x2="101.58" y2="205.6" stroke="#050505" stroke-width="0.85"/>
<line x1="103.26" y1="203" x2="103.26" y2="205.6" stroke="#050505" stroke-width="0.85"/>
<line x1="104.64" y1="203" x2="104.64" y2="205.6" stroke="#050505" stroke-width="0.85"/>
<line x1="105.8" y1="203" x2="105.8" y2="205.6" stroke="#050505" stroke-width="0.85"/>
<line x1="106.81" y1="203" x2="106.81" y2="205.6" stroke="#050505" stroke-width="0.85"/>
<line x1="107.7" y1="203" x2="107.7" y2="205.6" stroke="#050505" stroke-width="0.85"/>
<line x1="108.5" y1="203" x2="108.5" y2="206" stroke="#050505" stroke-width="1.1"/>
<line x1="113.74" y1="203" x2="113.74" y2="205.6" stroke="#050505" stroke-width="0.85"/>
<line x1="116.8" y1="203" x2="116.8" y2="205.6" stroke="#050505" stroke-width="0.85"/>
<line x1="118.98" y1="203" x2="118.98" y2="205.6" stroke="#050505" stroke-width="0.85"/>
<line x1="120.66" y1="203" x2="120.66" y2="205.6" stroke="#050505" stroke-width="0.85"/>
<line x1="122.04" y1="203" x2="122.04" y2="205.6" stroke="#050505" stroke-width="0.85"/>
<line x1="123.2" y1="203" x2="123.2" y2="205.6" stroke="#050505" stroke-width="0.85"/>
<line x1="124.21" y1="203" x2="124.21" y2="205.6" stroke="#050505" stroke-width="0.85"/>
<line x1="125.1" y1="203" x2="125.1" y2="205.6" stroke="#050505" stroke-width="0.85"/>
<line x1="125.9" y1="203" x2="125.9" y2="205.6" stroke="#050505" stroke-width="0.85"/>
<line x1="131.14" y1="203" x2="131.14" y2="205.6" stroke="#050505" stroke-width="0.85"/>
<line x1="134.2" y1="203" x2="134.2" y2="205.6" stroke="#050505" stroke-width="0.85"/>
<line x1="136.38" y1="203" x2="136.38" y2="205.6" stroke="#050505" stroke-width="0.85"/>
<line x1="138.06" y1="203" x2="138.06" y2="205.6" stroke="#050505" stroke-width="0.85"/>
<line x1="139.44" y1="203" x2="139.44" y2="205.6" stroke="#050505" stroke-width="0.85"/>
<line x1="140.6" y1="203" x2="140.6" y2="205.6" stroke="#050505" stroke-width="0.85"/>
<line x1="141.61" y1="203" x2="141.61" y2="205.6" stroke="#050505" stroke-width="0.85"/>
<line x1="142.5" y1="203" x2="142.5" y2="205.6" stroke="#050505" stroke-width="0.85"/>
<line x1="143.3" y1="203" x2="143.3" y2="205.6" stroke="#050505" stroke-width="0.85"/>
<line x1="148.54" y1="203" x2="148.54" y2="205.6" stroke="#050505" stroke-width="0.85"/>
<line x1="151.6" y1="203" x2="151.6" y2="205.6" stroke="#050505" stroke-width="0.85"/>
<line x1="153.78" y1="203" x2="153.78" y2="205.6" stroke="#050505" stroke-width="0.85"/>
<line x1="155.46" y1="203" x2="155.46" y2="205.6" stroke="#050505" stroke-width="0.85"/>
<line x1="156.84" y1="203" x2="156.84" y2="205.6" stroke="#050505" stroke-width="0.85"/>
<line x1="158" y1="203" x2="158" y2="205.6" stroke="#050505" stroke-width="0.85"/>
<line x1="159.01" y1="203" x2="159.01" y2="205.6" stroke="#050505" stroke-width="0.85"/>
<line x1="159.9" y1="203" x2="159.9" y2="205.6" stroke="#050505" stroke-width="0.85"/>
<line x1="160.7" y1="203" x2="160.7" y2="206" stroke="#050505" stroke-width="1.1"/>
<line x1="165.94" y1="203" x2="165.94" y2="205.6" stroke="#050505" stroke-width="0.85"/>
<line x1="169" y1="203" x2="169" y2="205.6" stroke="#050505" stroke-width="0.85"/>
<line x1="171.18" y1="203" x2="171.18" y2="205.6" stroke="#050505" stroke-width="0.85"/>
<line x1="172.86" y1="203" x2="172.86" y2="205.6" stroke="#050505" stroke-width="0.85"/>
<line x1="174.24" y1="203" x2="174.24" y2="205.6" stroke="#050505" stroke-width="0.85"/>
<line x1="175.4" y1="203" x2="175.4" y2="205.6" stroke="#050505" stroke-width="0.85"/>
<line x1="176.41" y1="203" x2="176.41" y2="205.6" stroke="#050505" stroke-width="0.85"/>
<line x1="177.3" y1="203" x2="177.3" y2="205.6" stroke="#050505" stroke-width="0.85"/>
<line x1="178.1" y1="203" x2="178.1" y2="205.6" stroke="#050505" stroke-width="0.85"/>
<line x1="183.34" y1="203" x2="183.34" y2="205.6" stroke="#050505" stroke-width="0.85"/>
<line x1="186.4" y1="203" x2="186.4" y2="205.6" stroke="#050505" stroke-width="0.85"/>
<line x1="188.58" y1="203" x2="188.58" y2="205.6" stroke="#050505" stroke-width="0.85"/>
<line x1="190.26" y1="203" x2="190.26" y2="205.6" stroke="#050505" stroke-width="0.85"/>
<line x1="191.64" y1="203" x2="191.64" y2="205.6" stroke="#050505" stroke-width="0.85"/>
<line x1="192.8" y1="203" x2="192.8" y2="205.6" stroke="#050505" stroke-width="0.85"/>
<line x1="193.81" y1="203" x2="193.81" y2="205.6" stroke="#050505" stroke-width="0.85"/>
<line x1="194.7" y1="203" x2="194.7" y2="205.6" stroke="#050505" stroke-width="0.85"/>
<line x1="195.5" y1="203" x2="195.5" y2="205.6" stroke="#050505" stroke-width="0.85"/>
<line x1="200.74" y1="203" x2="200.74" y2="205.6" stroke="#050505" stroke-width="0.85"/>
<line x1="203.8" y1="203" x2="203.8" y2="205.6" stroke="#050505" stroke-width="0.85"/>
<line x1="205.98" y1="203" x2="205.98" y2="205.6" stroke="#050505" stroke-width="0.85"/>
<line x1="207.66" y1="203" x2="207.66" y2="205.6" stroke="#050505" stroke-width="0.85"/>
<line x1="209.04" y1="203" x2="209.04" y2="205.6" stroke="#050505" stroke-width="0.85"/>
<line x1="210.2" y1="203" x2="210.2" y2="205.6" stroke="#050505" stroke-width="0.85"/>
<line x1="211.21" y1="203" x2="211.21" y2="205.6" stroke="#050505" stroke-width="0.85"/>
<line x1="212.1" y1="203" x2="212.1" y2="205.6" stroke="#050505" stroke-width="0.85"/>
<line x1="212.9" y1="203" x2="212.9" y2="206" stroke="#050505" stroke-width="1.1"/>
<circle cx="75" cy="202.2" r="1.2" fill="#6f9fdc" stroke="none" stroke-width="1"/>
<circle cx="76.5" cy="202.2" r="1.2" fill="#6f9fdc" stroke="none" stroke-width="1"/>
<circle cx="78" cy="202.2" r="1.2" fill="#6f9fdc" stroke="none" stroke-width="1"/>
<circle cx="79.5" cy="202.2" r="1.2" fill="#6f9fdc" stroke="none" stroke-width="1"/>
<circle cx="81" cy="202.2" r="1.2" fill="#6f9fdc" stroke="none" stroke-width="1"/>
<circle cx="82.5" cy="202.2" r="1.2" fill="#6f9fdc" stroke="none" stroke-width="1"/>
<circle cx="84" cy="202.2" r="1.2" fill="#6f9fdc" stroke="none" stroke-width="1"/>
<circle cx="85.5" cy="202.2" r="1.2" fill="#6f9fdc" stroke="none" stroke-width="1"/>
<circle cx="87" cy="202.2" r="1.2" fill="#6f9fdc" stroke="none" stroke-width="1"/>
<circle cx="88.5" cy="202.2" r="1.2" fill="#6f9fdc" stroke="none" stroke-width="1"/>
<circle cx="90" cy="202.2" r="1.2" fill="#6f9fdc" stroke="none" stroke-width="1"/>
<circle cx="91.5" cy="202.2" r="1.2" fill="#6f9fdc" stroke="none" stroke-width="1"/>
<circle cx="93" cy="202.2" r="1.2" fill="#6f9fdc" stroke="none" stroke-width="1"/>
<circle cx="94.5" cy="202.2" r="1.2" fill="#6f9fdc" stroke="none" stroke-width="1"/>
<circle cx="96" cy="202.2" r="1.2" fill="#6f9fdc" stroke="none" stroke-width="1"/>
<circle cx="97.5" cy="202.2" r="1.2" fill="#6f9fdc" stroke="none" stroke-width="1"/>
<circle cx="99" cy="202.2" r="1.2" fill="#6f9fdc" stroke="none" stroke-width="1"/>
<circle cx="100.5" cy="202.2" r="1.2" fill="#6f9fdc" stroke="none" stroke-width="1"/>
<circle cx="102" cy="202.2" r="1.2" fill="#6f9fdc" stroke="none" stroke-width="1"/>
<circle cx="103.5" cy="202.2" r="1.2" fill="#6f9fdc" stroke="none" stroke-width="1"/>
<circle cx="105" cy="202.2" r="1.2" fill="#6f9fdc" stroke="none" stroke-width="1"/>
<circle cx="106.5" cy="202.2" r="1.2" fill="#6f9fdc" stroke="none" stroke-width="1"/>
<circle cx="108" cy="202.2" r="1.2" fill="#6f9fdc" stroke="none" stroke-width="1"/>
<circle cx="109.5" cy="202.2" r="1.2" fill="#6f9fdc" stroke="none" stroke-width="1"/>
<circle cx="111" cy="202.2" r="1.2" fill="#6f9fdc" stroke="none" stroke-width="1"/>
<circle cx="112.5" cy="202.2" r="1.2" fill="#6f9fdc" stroke="none" stroke-width="1"/>
<circle cx="114" cy="202.2" r="1.2" fill="#6f9fdc" stroke="none" stroke-width="1"/>
<circle cx="115.5" cy="202.2" r="1.2" fill="#6f9fdc" stroke="none" stroke-width="1"/>
<circle cx="117" cy="202.2" r="1.2" fill="#6f9fdc" stroke="none" stroke-width="1"/>
<circle cx="118.5" cy="202.2" r="1.2" fill="#6f9fdc" stroke="none" stroke-width="1"/>
<circle cx="120" cy="202.2" r="1.2" fill="#6f9fdc" stroke="none" stroke-width="1"/>
<circle cx="121.5" cy="202.2" r="1.2" fill="#6f9fdc" stroke="none" stroke-width="1"/>
<circle cx="123" cy="202.2" r="1.2" fill="#6f9fdc" stroke="none" stroke-width="1"/>
<circle cx="124.5" cy="202.2" r="1.2" fill="#6f9fdc" stroke="none" stroke-width="1"/>
<circle cx="126" cy="202.2" r="1.2" fill="#6f9fdc" stroke="none" stroke-width="1"/>
<circle cx="127.5" cy="202.2" r="1.2" fill="#6f9fdc" stroke="none" stroke-width="1"/>
<circle cx="129" cy="202.2" r="1.2" fill="#6f9fdc" stroke="none" stroke-width="1"/>
<circle cx="130.5" cy="202.2" r="1.2" fill="#6f9fdc" stroke="none" stroke-width="1"/>
<circle cx="132" cy="202.2" r="1.2" fill="#6f9fdc" stroke="none" stroke-width="1"/>
<circle cx="133.5" cy="202.2" r="1.2" fill="#6f9fdc" stroke="none" stroke-width="1"/>
<circle cx="135" cy="202.2" r="1.2" fill="#6f9fdc" stroke="none" stroke-width="1"/>
<circle cx="136.5" cy="202.2" r="1.2" fill="#6f9fdc" stroke="none" stroke-width="1"/>
<circle cx="138" cy="202.2" r="1.2" fill="#6f9fdc" stroke="none" stroke-width="1"/>
<circle cx="139.5" cy="202.2" r="1.2" fill="#6f9fdc" stroke="none" stroke-width="1"/>
<circle cx="141" cy="202.2" r="1.2" fill="#6f9fdc" stroke="none" stroke-width="1"/>
<circle cx="142.5" cy="202.2" r="1.2" fill="#6f9fdc" stroke="none" stroke-width="1"/>
<circle cx="144" cy="202.2" r="1.2" fill="#6f9fdc" stroke="none" stroke-width="1"/>
<circle cx="145.5" cy="202.2" r="1.2" fill="#6f9fdc" stroke="none" stroke-width="1"/>
<circle cx="147" cy="202.2" r="1.2" fill="#6f9fdc" stroke="none" stroke-width="1"/>
<circle cx="148.5" cy="202.2" r="1.2" fill="#6f9fdc" stroke="none" stroke-width="1"/>
<circle cx="150" cy="202.2" r="1.2" fill="#6f9fdc" stroke="none" stroke-width="1"/>
<circle cx="151.5" cy="202.2" r="1.2" fill="#6f9fdc" stroke="none" stroke-width="1"/>
<circle cx="159.6" cy="202.2" r="1.2" fill="#6f9fdc" stroke="none" stroke-width="1"/>
<circle cx="56.5" cy="114" r="1.15" fill="#6f9fdc" stroke="none" stroke-width="1"/>
<circle cx="56.5" cy="127.9" r="1.15" fill="#6f9fdc" stroke="none" stroke-width="1"/>
<circle cx="56.5" cy="131" r="1.15" fill="#6f9fdc" stroke="none" stroke-width="1"/>
<circle cx="56.5" cy="132.8" r="1.15" fill="#6f9fdc" stroke="none" stroke-width="1"/>
<circle cx="56.5" cy="134.6" r="1.15" fill="#6f9fdc" stroke="none" stroke-width="1"/>
<circle cx="56.5" cy="136.4" r="1.15" fill="#6f9fdc" stroke="none" stroke-width="1"/>
<circle cx="56.5" cy="138.2" r="1.15" fill="#6f9fdc" stroke="none" stroke-width="1"/>
<circle cx="56.5" cy="140" r="1.15" fill="#6f9fdc" stroke="none" stroke-width="1"/>
<circle cx="56.5" cy="141.8" r="1.15" fill="#6f9fdc" stroke="none" stroke-width="1"/>
<circle cx="56.5" cy="145.6" r="1.15" fill="#6f9fdc" stroke="none" stroke-width="1"/>
<circle cx="56.5" cy="147.4" r="1.15" fill="#6f9fdc" stroke="none" stroke-width="1"/>
<circle cx="56.5" cy="149.2" r="1.15" fill="#6f9fdc" stroke="none" stroke-width="1"/>
<circle cx="56.5" cy="153" r="1.15" fill="#6f9fdc" stroke="none" stroke-width="1"/>
<circle cx="56.5" cy="154.8" r="1.15" fill="#6f9fdc" stroke="none" stroke-width="1"/>
<circle cx="56.5" cy="156.6" r="1.15" fill="#6f9fdc" stroke="none" stroke-width="1"/>
<circle cx="56.5" cy="158.4" r="1.15" fill="#6f9fdc" stroke="none" stroke-width="1"/>
<circle cx="56.5" cy="160.2" r="1.15" fill="#6f9fdc" stroke="none" stroke-width="1"/>
<circle cx="56.5" cy="162" r="1.15" fill="#6f9fdc" stroke="none" stroke-width="1"/>
<circle cx="56.5" cy="163.8" r="1.15" fill="#6f9fdc" stroke="none" stroke-width="1"/>
<circle cx="56.5" cy="165.6" r="1.15" fill="#6f9fdc" stroke="none" stroke-width="1"/>
<circle cx="56.5" cy="167.2" r="1.15" fill="#6f9fdc" stroke="none" stroke-width="1"/>
<circle cx="56.5" cy="170" r="1.15" fill="#6f9fdc" stroke="none" stroke-width="1"/>
<circle cx="56.5" cy="172.6" r="1.15" fill="#6f9fdc" stroke="none" stroke-width="1"/>
<circle cx="56.5" cy="175.4" r="1.15" fill="#6f9fdc" stroke="none" stroke-width="1"/>
<text x="50.2" y="205.6" font-size="7.3" text-anchor="end" fill="#0a0a0a" transform="matrix(1 0.000873 0 1 0 -0.0438)">1.0E+0</text>
<text x="50.2" y="170.2" font-size="7.3" text-anchor="end" fill="#0a0a0a" transform="matrix(1 0.000873 0 1 0 -0.0438)">1.0E+2</text>
<text x="50.2" y="134.8" font-size="7.3" text-anchor="end" fill="#0a0a0a" transform="matrix(1 0.000873 0 1 0 -0.0438)">1.0E+4</text>
<text x="50.2" y="99.4" font-size="7.3" text-anchor="end" fill="#0a0a0a" transform="matrix(1 0.000873 0 1 0 -0.0438)">1.0E+6</text>
<text x="50.2" y="64" font-size="7.3" text-anchor="end" fill="#0a0a0a" transform="matrix(1 0.000873 0 1 0 -0.0438)">1.0E+8</text>
<text x="56.3" y="217.2" font-size="7.3" text-anchor="middle" fill="#0a0a0a" transform="matrix(1 0.000873 0 1 0 -0.0491)">1.0E+0</text>
<text x="108.5" y="217.2" font-size="7.3" text-anchor="middle" fill="#0a0a0a" transform="matrix(1 0.000873 0 1 0 -0.0947)">1.0E+3</text>
<text x="160.7" y="217.2" font-size="7.3" text-anchor="middle" fill="#0a0a0a" transform="matrix(1 0.000873 0 1 0 -0.1402)">1.0E+6</text>
<text x="212.9" y="217.2" font-size="7.3" text-anchor="middle" fill="#0a0a0a" transform="matrix(1 0.000873 0 1 0 -0.1858)">1.0E+9</text>
<text x="134.5" y="230.9" font-size="10.3" text-anchor="middle" fill="#0a0a0a" transform="matrix(1 0.000873 0 1 0 -0.1174)" textLength="157.3" lengthAdjust="spacingAndGlyphs" style="stroke-width:0.2px">Protein copy number in reticulocytes</text>
<text transform="translate(16.6,123.0) rotate(-90)" font-size="10.3" text-anchor="middle" textLength="157" lengthAdjust="spacingAndGlyphs" style="stroke-width:0.1px" fill="#0a0a0a">Protein copy number in erythrocytes</text>
<text x="64.6" y="70.2" font-size="7.2" text-anchor="start" fill="#0a0a0a" transform="matrix(1 0.000873 0 1 0 -0.0564)" textLength="4.0" lengthAdjust="spacingAndGlyphs">R</text>
<text x="68" y="67.3" font-size="4.6" text-anchor="start" fill="#0a0a0a" transform="matrix(1 0.000873 0 1 0 -0.0593)" textLength="1.9" lengthAdjust="spacingAndGlyphs">2</text>
<text x="73.3" y="70.2" font-size="7.2" text-anchor="start" fill="#0a0a0a" transform="matrix(1 0.000873 0 1 0 -0.0640)">= 0.9995</text>
<rect x="449.4" y="33.95" width="18.8" height="3.1" fill="#6f9cd3"/>
<text x="380.9" y="37.44" font-size="5.4" text-anchor="end" fill="#0a0a0a" transform="matrix(1 0.000873 0 1 0 -0.3324)">DNA packaging</text>
<rect x="449.4" y="40.35" width="18.8" height="3.1" fill="#6f9cd3"/>
<text x="380.9" y="43.84" font-size="5.4" text-anchor="end" fill="#0a0a0a" transform="matrix(1 0.000873 0 1 0 -0.3324)">ribosomal small subunit biogenesis</text>
<rect x="449.4" y="46.75" width="17.7" height="3.1" fill="#6f9cd3"/>
<text x="380.9" y="50.24" font-size="5.4" text-anchor="end" fill="#0a0a0a" transform="matrix(1 0.000873 0 1 0 -0.3324)">translational elongation</text>
<rect x="449.4" y="53.15" width="16.6" height="3.1" fill="#6f9cd3"/>
<text x="380.9" y="56.64" font-size="5.4" text-anchor="end" fill="#0a0a0a" transform="matrix(1 0.000873 0 1 0 -0.3324)">rRNA processing</text>
<rect x="449.4" y="59.55" width="15.7" height="3.1" fill="#6f9cd3"/>
<text x="380.9" y="63.04" font-size="5.4" text-anchor="end" fill="#0a0a0a" transform="matrix(1 0.000873 0 1 0 -0.3324)">translation</text>
<rect x="449.4" y="65.95" width="15.7" height="3.1" fill="#6f9cd3"/>
<text x="380.9" y="69.44" font-size="5.4" text-anchor="end" fill="#0a0a0a" transform="matrix(1 0.000873 0 1 0 -0.3324)">translational initiation</text>
<rect x="449.4" y="72.35" width="14.6" height="3.1" fill="#6f9cd3"/>
<text x="380.9" y="75.84" font-size="5.4" text-anchor="end" fill="#0a0a0a" transform="matrix(1 0.000873 0 1 0 -0.3324)">RNA catabolic process</text>
<rect x="449.4" y="78.75" width="13.4" height="3.1" fill="#6f9cd3"/>
<text x="380.9" y="82.24" font-size="5.4" text-anchor="end" fill="#0a0a0a" transform="matrix(1 0.000873 0 1 0 -0.3324)">mRNA metabolic process</text>
<rect x="449.4" y="85.15" width="12.2" height="3.1" fill="#6f9cd3"/>
<text x="380.9" y="88.64" font-size="5.4" text-anchor="end" fill="#0a0a0a" transform="matrix(1 0.000873 0 1 0 -0.3324)">ribonucleoprotein complex assembly</text>
<rect x="449.4" y="91.55" width="11.3" height="3.1" fill="#6f9cd3"/>
<text x="380.9" y="95.04" font-size="5.4" text-anchor="end" fill="#0a0a0a" transform="matrix(1 0.000873 0 1 0 -0.3324)">tRNA metabolic process</text>
<rect x="449.4" y="97.95" width="11.1" height="3.1" fill="#6f9cd3"/>
<text x="380.9" y="101.44" font-size="5.4" text-anchor="end" fill="#0a0a0a" transform="matrix(1 0.000873 0 1 0 -0.3324)">cellular component disassembly</text>
<rect x="449.4" y="104.35" width="10.7" height="3.1" fill="#6f9cd3"/>
<text x="380.9" y="107.84" font-size="5.4" text-anchor="end" fill="#0a0a0a" transform="matrix(1 0.000873 0 1 0 -0.3324)">regulation of translation</text>
<rect x="449.4" y="110.75" width="10.5" height="3.1" fill="#6f9cd3"/>
<text x="380.9" y="114.24" font-size="5.4" text-anchor="end" fill="#0a0a0a" transform="matrix(1 0.000873 0 1 0 -0.3324)">RNA processing</text>
<rect x="449.4" y="117.15" width="10.5" height="3.1" fill="#6f9cd3"/>
<text x="380.9" y="120.64" font-size="5.4" text-anchor="end" fill="#0a0a0a" transform="matrix(1 0.000873 0 1 0 -0.3324)">chromosome organization</text>
<rect x="449.4" y="123.55" width="10.1" height="3.1" fill="#6f9cd3"/>
<text x="380.9" y="127.04" font-size="5.4" text-anchor="end" fill="#0a0a0a" transform="matrix(1 0.000873 0 1 0 -0.3324)">cell division</text>
<rect x="449.4" y="129.95" width="9.7" height="3.1" fill="#6f9cd3"/>
<text x="380.9" y="133.44" font-size="5.4" text-anchor="end" fill="#0a0a0a" transform="matrix(1 0.000873 0 1 0 -0.3324)">RNA metabolic process</text>
<rect x="449.4" y="136.35" width="8.3" height="3.1" fill="#6f9cd3"/>
<text x="380.9" y="139.84" font-size="5.4" text-anchor="end" fill="#0a0a0a" transform="matrix(1 0.000873 0 1 0 -0.3324)">protein targeting</text>
<rect x="441.4" y="142.75" width="8" height="3.1" fill="#6f9cd3"/>
<text x="380.9" y="146.24" font-size="5.4" text-anchor="end" fill="#0a0a0a" transform="matrix(1 0.000873 0 1 0 -0.3324)">proteolysis</text>
<rect x="440.1" y="149.15" width="9.3" height="3.1" fill="#6f9cd3"/>
<text x="380.9" y="152.64" font-size="5.4" text-anchor="end" fill="#0a0a0a" transform="matrix(1 0.000873 0 1 0 -0.3324)">small molecule metabolic process</text>
<rect x="440.1" y="155.55" width="9.3" height="3.1" fill="#6f9cd3"/>
<text x="380.9" y="159.04" font-size="5.4" text-anchor="end" fill="#0a0a0a" transform="matrix(1 0.000873 0 1 0 -0.3324)">heterocycle metabolic process</text>
<rect x="439.9" y="161.95" width="9.5" height="3.1" fill="#6f9cd3"/>
<text x="380.9" y="165.44" font-size="5.4" text-anchor="end" fill="#0a0a0a" transform="matrix(1 0.000873 0 1 0 -0.3324)">cell death</text>
<rect x="439.9" y="168.35" width="9.5" height="3.1" fill="#6f9cd3"/>
<text x="380.9" y="171.84" font-size="5.4" text-anchor="end" fill="#0a0a0a" transform="matrix(1 0.000873 0 1 0 -0.3324)">death</text>
<rect x="440" y="174.75" width="9.4" height="3.1" fill="#6f9cd3"/>
<text x="380.9" y="178.24" font-size="5.4" text-anchor="end" fill="#0a0a0a" transform="matrix(1 0.000873 0 1 0 -0.3324)">cellular lipid metabolic process</text>
<rect x="438.6" y="181.15" width="10.8" height="3.1" fill="#6f9cd3"/>
<text x="380.9" y="184.64" font-size="5.4" text-anchor="end" fill="#0a0a0a" transform="matrix(1 0.000873 0 1 0 -0.3324)">alcohol metabolic process</text>
<rect x="438.2" y="187.55" width="11.2" height="3.1" fill="#6f9cd3"/>
<text x="380.9" y="191.04" font-size="5.4" text-anchor="end" fill="#0a0a0a" transform="matrix(1 0.000873 0 1 0 -0.3324)">secretion</text>
<rect x="437.2" y="193.95" width="12.2" height="3.1" fill="#6f9cd3"/>
<text x="380.9" y="197.44" font-size="5.4" text-anchor="end" fill="#0a0a0a" transform="matrix(1 0.000873 0 1 0 -0.3324)">cellular homeostasis</text>
<rect x="436.1" y="200.35" width="13.3" height="3.1" fill="#6f9cd3"/>
<text x="380.9" y="203.84" font-size="5.4" text-anchor="end" fill="#0a0a0a" transform="matrix(1 0.000873 0 1 0 -0.3324)">nucleobase-containing small molecule metabolic process</text>
<rect x="435.2" y="206.75" width="14.2" height="3.1" fill="#6f9cd3"/>
<text x="380.9" y="210.24" font-size="5.4" text-anchor="end" fill="#0a0a0a" transform="matrix(1 0.000873 0 1 0 -0.3324)">regulation of body fluid levels</text>
<rect x="434.4" y="213.15" width="15" height="3.1" fill="#6f9cd3"/>
<text x="380.9" y="216.64" font-size="5.4" text-anchor="end" fill="#0a0a0a" transform="matrix(1 0.000873 0 1 0 -0.3324)">nucleotide metabolic process</text>
<rect x="433.2" y="219.55" width="16.2" height="3.1" fill="#6f9cd3"/>
<text x="380.9" y="223.04" font-size="5.4" text-anchor="end" fill="#0a0a0a" transform="matrix(1 0.000873 0 1 0 -0.3324)">coagulation</text>
<rect x="432.6" y="225.95" width="16.8" height="3.1" fill="#6f9cd3"/>
<text x="380.9" y="229.44" font-size="5.4" text-anchor="end" fill="#0a0a0a" transform="matrix(1 0.000873 0 1 0 -0.3324)">exocytosis</text>
<rect x="427.8" y="232.35" width="21.6" height="3.1" fill="#6f9cd3"/>
<text x="380.9" y="235.84" font-size="5.4" text-anchor="end" fill="#0a0a0a" transform="matrix(1 0.000873 0 1 0 -0.3324)">sulfur compound metabolic process</text>
<rect x="402.9" y="238.75" width="46.5" height="3.1" fill="#6f9cd3"/>
<text x="380.9" y="242.24" font-size="5.4" text-anchor="end" fill="#0a0a0a" transform="matrix(1 0.000873 0 1 0 -0.3324)">plasma membrane organization</text>
<rect x="395" y="245.15" width="54.4" height="3.1" fill="#6f9cd3"/>
<text x="380.9" y="248.64" font-size="5.4" text-anchor="end" fill="#0a0a0a" transform="matrix(1 0.000873 0 1 0 -0.3324)">cellular metabolic compound salvage</text>
<rect x="395" y="251.55" width="54.4" height="3.1" fill="#6f9cd3"/>
<text x="380.9" y="255.04" font-size="5.4" text-anchor="end" fill="#0a0a0a" transform="matrix(1 0.000873 0 1 0 -0.3324)">peptide metabolic process</text>
<line x1="449.4" y1="29" x2="449.4" y2="256.5" stroke="#050505" stroke-width="1.1"/>
<line x1="446.4" y1="32.3" x2="449.4" y2="32.3" stroke="#050505" stroke-width="0.9"/>
<line x1="446.4" y1="38.7" x2="449.4" y2="38.7" stroke="#050505" stroke-width="0.9"/>
<line x1="446.4" y1="45.1" x2="449.4" y2="45.1" stroke="#050505" stroke-width="0.9"/>
<line x1="446.4" y1="51.5" x2="449.4" y2="51.5" stroke="#050505" stroke-width="0.9"/>
<line x1="446.4" y1="57.9" x2="449.4" y2="57.9" stroke="#050505" stroke-width="0.9"/>
<line x1="446.4" y1="64.3" x2="449.4" y2="64.3" stroke="#050505" stroke-width="0.9"/>
<line x1="446.4" y1="70.7" x2="449.4" y2="70.7" stroke="#050505" stroke-width="0.9"/>
<line x1="446.4" y1="77.1" x2="449.4" y2="77.1" stroke="#050505" stroke-width="0.9"/>
<line x1="446.4" y1="83.5" x2="449.4" y2="83.5" stroke="#050505" stroke-width="0.9"/>
<line x1="446.4" y1="89.9" x2="449.4" y2="89.9" stroke="#050505" stroke-width="0.9"/>
<line x1="446.4" y1="96.3" x2="449.4" y2="96.3" stroke="#050505" stroke-width="0.9"/>
<line x1="446.4" y1="102.7" x2="449.4" y2="102.7" stroke="#050505" stroke-width="0.9"/>
<line x1="446.4" y1="109.1" x2="449.4" y2="109.1" stroke="#050505" stroke-width="0.9"/>
<line x1="446.4" y1="115.5" x2="449.4" y2="115.5" stroke="#050505" stroke-width="0.9"/>
<line x1="446.4" y1="121.9" x2="449.4" y2="121.9" stroke="#050505" stroke-width="0.9"/>
<line x1="446.4" y1="128.3" x2="449.4" y2="128.3" stroke="#050505" stroke-width="0.9"/>
<line x1="446.4" y1="134.7" x2="449.4" y2="134.7" stroke="#050505" stroke-width="0.9"/>
<line x1="446.4" y1="141.1" x2="449.4" y2="141.1" stroke="#050505" stroke-width="0.9"/>
<line x1="446.4" y1="147.5" x2="449.4" y2="147.5" stroke="#050505" stroke-width="0.9"/>
<line x1="446.4" y1="153.9" x2="449.4" y2="153.9" stroke="#050505" stroke-width="0.9"/>
<line x1="446.4" y1="160.3" x2="449.4" y2="160.3" stroke="#050505" stroke-width="0.9"/>
<line x1="446.4" y1="166.7" x2="449.4" y2="166.7" stroke="#050505" stroke-width="0.9"/>
<line x1="446.4" y1="173.1" x2="449.4" y2="173.1" stroke="#050505" stroke-width="0.9"/>
<line x1="446.4" y1="179.5" x2="449.4" y2="179.5" stroke="#050505" stroke-width="0.9"/>
<line x1="446.4" y1="185.9" x2="449.4" y2="185.9" stroke="#050505" stroke-width="0.9"/>
<line x1="446.4" y1="192.3" x2="449.4" y2="192.3" stroke="#050505" stroke-width="0.9"/>
<line x1="446.4" y1="198.7" x2="449.4" y2="198.7" stroke="#050505" stroke-width="0.9"/>
<line x1="446.4" y1="205.1" x2="449.4" y2="205.1" stroke="#050505" stroke-width="0.9"/>
<line x1="446.4" y1="211.5" x2="449.4" y2="211.5" stroke="#050505" stroke-width="0.9"/>
<line x1="446.4" y1="217.9" x2="449.4" y2="217.9" stroke="#050505" stroke-width="0.9"/>
<line x1="446.4" y1="224.3" x2="449.4" y2="224.3" stroke="#050505" stroke-width="0.9"/>
<line x1="446.4" y1="230.7" x2="449.4" y2="230.7" stroke="#050505" stroke-width="0.9"/>
<line x1="446.4" y1="237.1" x2="449.4" y2="237.1" stroke="#050505" stroke-width="0.9"/>
<line x1="446.4" y1="243.5" x2="449.4" y2="243.5" stroke="#050505" stroke-width="0.9"/>
<line x1="446.4" y1="249.9" x2="449.4" y2="249.9" stroke="#050505" stroke-width="0.9"/>
<line x1="384.6" y1="255.9" x2="498" y2="255.9" stroke="#050505" stroke-width="1.3"/>
<line x1="387" y1="255.9" x2="387" y2="258.3" stroke="#050505" stroke-width="0.9"/>
<text x="387" y="267.8" font-size="5" text-anchor="middle" fill="#0a0a0a" transform="matrix(1 0.000873 0 1 0 -0.3377)">-4</text>
<line x1="402.6" y1="255.9" x2="402.6" y2="258.3" stroke="#050505" stroke-width="0.9"/>
<text x="402.6" y="267.8" font-size="5" text-anchor="middle" fill="#0a0a0a" transform="matrix(1 0.000873 0 1 0 -0.3513)">-3</text>
<line x1="418.2" y1="255.9" x2="418.2" y2="258.3" stroke="#050505" stroke-width="0.9"/>
<text x="418.2" y="267.8" font-size="5" text-anchor="middle" fill="#0a0a0a" transform="matrix(1 0.000873 0 1 0 -0.3649)">-2</text>
<line x1="433.8" y1="255.9" x2="433.8" y2="258.3" stroke="#050505" stroke-width="0.9"/>
<text x="433.8" y="267.8" font-size="5" text-anchor="middle" fill="#0a0a0a" transform="matrix(1 0.000873 0 1 0 -0.3786)">-1</text>
<line x1="449.4" y1="255.9" x2="449.4" y2="258.3" stroke="#050505" stroke-width="0.9"/>
<text x="449.4" y="267.8" font-size="5" text-anchor="middle" fill="#0a0a0a" transform="matrix(1 0.000873 0 1 0 -0.3922)">0</text>
<line x1="465" y1="255.9" x2="465" y2="258.3" stroke="#050505" stroke-width="0.9"/>
<text x="465" y="267.8" font-size="5" text-anchor="middle" fill="#0a0a0a" transform="matrix(1 0.000873 0 1 0 -0.4058)">1</text>
<line x1="480.6" y1="255.9" x2="480.6" y2="258.3" stroke="#050505" stroke-width="0.9"/>
<text x="480.6" y="267.8" font-size="5" text-anchor="middle" fill="#0a0a0a" transform="matrix(1 0.000873 0 1 0 -0.4194)">2</text>
<line x1="496.2" y1="255.9" x2="496.2" y2="258.3" stroke="#050505" stroke-width="0.9"/>
<text x="496.2" y="267.8" font-size="5" text-anchor="middle" fill="#0a0a0a" transform="matrix(1 0.000873 0 1 0 -0.4330)">3</text>
<text x="445.2" y="14.6" font-size="8.6" text-anchor="middle" fill="#0a0a0a" transform="matrix(1 0.000873 0 1 0 -0.3885)" textLength="19.6" lengthAdjust="spacingAndGlyphs">GOBP</text>
<text x="419" y="24.6" font-size="5.2" text-anchor="middle" fill="#0a0a0a" transform="matrix(1 0.000873 0 1 0 -0.3656)">EPP</text>
<text x="472.7" y="24.6" font-size="5.2" text-anchor="middle" fill="#0a0a0a" transform="matrix(1 0.000873 0 1 0 -0.4125)">Retic</text>
<rect x="212.3" y="312.05" width="22.1" height="3.5" fill="#6f9cd3"/>
<text x="127.5" y="315.76" font-size="5.45" text-anchor="end" fill="#0a0a0a" transform="matrix(1 0.000873 0 1 0 -0.1113)">structural constituent of ribosome</text>
<rect x="212.3" y="320.13" width="15.4" height="3.5" fill="#6f9cd3"/>
<text x="127.5" y="323.84" font-size="5.45" text-anchor="end" fill="#0a0a0a" transform="matrix(1 0.000873 0 1 0 -0.1113)">RNA binding</text>
<rect x="212.3" y="328.21" width="14.6" height="3.5" fill="#6f9cd3"/>
<text x="127.5" y="331.92" font-size="5.45" text-anchor="end" fill="#0a0a0a" transform="matrix(1 0.000873 0 1 0 -0.1113)">translation factor activity, nucleic acid binding</text>
<rect x="212.3" y="336.29" width="13.5" height="3.5" fill="#6f9cd3"/>
<text x="127.5" y="340" font-size="5.45" text-anchor="end" fill="#0a0a0a" transform="matrix(1 0.000873 0 1 0 -0.1113)">nucleic acid binding</text>
<rect x="212.3" y="344.37" width="12.2" height="3.5" fill="#6f9cd3"/>
<text x="127.5" y="348.08" font-size="5.45" text-anchor="end" fill="#0a0a0a" transform="matrix(1 0.000873 0 1 0 -0.1113)">structural molecule activity</text>
<rect x="212.3" y="352.45" width="10" height="3.5" fill="#6f9cd3"/>
<text x="127.5" y="356.16" font-size="5.45" text-anchor="end" fill="#0a0a0a" transform="matrix(1 0.000873 0 1 0 -0.1113)">DNA binding</text>
<rect x="192.2" y="360.53" width="20.1" height="3.5" fill="#6f9cd3"/>
<text x="127.5" y="364.24" font-size="5.45" text-anchor="end" fill="#0a0a0a" transform="matrix(1 0.000873 0 1 0 -0.1113)">peptidase activity, acting on L-amino acid peptides</text>
<rect x="190.8" y="368.61" width="21.5" height="3.5" fill="#6f9cd3"/>
<text x="127.5" y="372.32" font-size="5.45" text-anchor="end" fill="#0a0a0a" transform="matrix(1 0.000873 0 1 0 -0.1113)">peptidase activity</text>
<rect x="187" y="376.69" width="25.3" height="3.5" fill="#6f9cd3"/>
<text x="127.5" y="380.4" font-size="5.45" text-anchor="end" fill="#0a0a0a" transform="matrix(1 0.000873 0 1 0 -0.1113)">oxidoreductase activity</text>
<rect x="172.5" y="384.77" width="39.8" height="3.5" fill="#6f9cd3"/>
<text x="127.5" y="388.48" font-size="5.45" text-anchor="end" fill="#0a0a0a" transform="matrix(1 0.000873 0 1 0 -0.1113)">endopeptidase activity</text>
<line x1="212.3" y1="306.5" x2="212.3" y2="390.6" stroke="#050505" stroke-width="1.1"/>
<line x1="209.3" y1="309.8" x2="212.3" y2="309.8" stroke="#050505" stroke-width="0.9"/>
<line x1="209.3" y1="317.88" x2="212.3" y2="317.88" stroke="#050505" stroke-width="0.9"/>
<line x1="209.3" y1="325.96" x2="212.3" y2="325.96" stroke="#050505" stroke-width="0.9"/>
<line x1="209.3" y1="334.04" x2="212.3" y2="334.04" stroke="#050505" stroke-width="0.9"/>
<line x1="209.3" y1="342.12" x2="212.3" y2="342.12" stroke="#050505" stroke-width="0.9"/>
<line x1="209.3" y1="350.2" x2="212.3" y2="350.2" stroke="#050505" stroke-width="0.9"/>
<line x1="209.3" y1="358.28" x2="212.3" y2="358.28" stroke="#050505" stroke-width="0.9"/>
<line x1="209.3" y1="366.36" x2="212.3" y2="366.36" stroke="#050505" stroke-width="0.9"/>
<line x1="209.3" y1="374.44" x2="212.3" y2="374.44" stroke="#050505" stroke-width="0.9"/>
<line x1="209.3" y1="382.52" x2="212.3" y2="382.52" stroke="#050505" stroke-width="0.9"/>
<line x1="130.8" y1="390" x2="274.1" y2="390" stroke="#050505" stroke-width="1.3"/>
<line x1="133.74" y1="390" x2="133.74" y2="392.4" stroke="#050505" stroke-width="0.9"/>
<text x="133.74" y="401.9" font-size="5" text-anchor="middle" fill="#0a0a0a" transform="matrix(1 0.000873 0 1 0 -0.1167)">-4</text>
<line x1="153.38" y1="390" x2="153.38" y2="392.4" stroke="#050505" stroke-width="0.9"/>
<text x="153.38" y="401.9" font-size="5" text-anchor="middle" fill="#0a0a0a" transform="matrix(1 0.000873 0 1 0 -0.1338)">-3</text>
<line x1="173.02" y1="390" x2="173.02" y2="392.4" stroke="#050505" stroke-width="0.9"/>
<text x="173.02" y="401.9" font-size="5" text-anchor="middle" fill="#0a0a0a" transform="matrix(1 0.000873 0 1 0 -0.1510)">-2</text>
<line x1="192.66" y1="390" x2="192.66" y2="392.4" stroke="#050505" stroke-width="0.9"/>
<text x="192.66" y="401.9" font-size="5" text-anchor="middle" fill="#0a0a0a" transform="matrix(1 0.000873 0 1 0 -0.1681)">-1</text>
<line x1="212.3" y1="390" x2="212.3" y2="392.4" stroke="#050505" stroke-width="0.9"/>
<text x="212.3" y="401.9" font-size="5" text-anchor="middle" fill="#0a0a0a" transform="matrix(1 0.000873 0 1 0 -0.1853)">0</text>
<line x1="231.94" y1="390" x2="231.94" y2="392.4" stroke="#050505" stroke-width="0.9"/>
<text x="231.94" y="401.9" font-size="5" text-anchor="middle" fill="#0a0a0a" transform="matrix(1 0.000873 0 1 0 -0.2024)">1</text>
<line x1="251.58" y1="390" x2="251.58" y2="392.4" stroke="#050505" stroke-width="0.9"/>
<text x="251.58" y="401.9" font-size="5" text-anchor="middle" fill="#0a0a0a" transform="matrix(1 0.000873 0 1 0 -0.2195)">2</text>
<line x1="271.22" y1="390" x2="271.22" y2="392.4" stroke="#050505" stroke-width="0.9"/>
<text x="271.22" y="401.9" font-size="5" text-anchor="middle" fill="#0a0a0a" transform="matrix(1 0.000873 0 1 0 -0.2367)">3</text>
<text x="207.2" y="292.1" font-size="8.6" text-anchor="middle" fill="#0a0a0a" transform="matrix(1 0.000873 0 1 0 -0.1808)" textLength="20.6" lengthAdjust="spacingAndGlyphs">GOMF</text>
<text x="173.6" y="302" font-size="5.2" text-anchor="middle" fill="#0a0a0a" transform="matrix(1 0.000873 0 1 0 -0.1515)">EPP</text>
<text x="241.6" y="302" font-size="5.2" text-anchor="middle" fill="#0a0a0a" transform="matrix(1 0.000873 0 1 0 -0.2108)">Retic</text>
<rect x="449" y="343.05" width="22.9" height="3.3" fill="#6f9cd3"/>
<text x="362.5" y="346.61" font-size="5.3" text-anchor="end" fill="#0a0a0a" transform="matrix(1 0.000873 0 1 0 -0.3163)">Ribosome</text>
<rect x="449" y="353.15" width="12.7" height="3.3" fill="#6f9cd3"/>
<text x="362.5" y="356.71" font-size="5.3" text-anchor="end" fill="#0a0a0a" transform="matrix(1 0.000873 0 1 0 -0.3163)">RNA transport</text>
<rect x="400.2" y="363.25" width="48.8" height="3.3" fill="#6f9cd3"/>
<text x="362.5" y="366.81" font-size="5.3" text-anchor="end" fill="#0a0a0a" transform="matrix(1 0.000873 0 1 0 -0.3163)">Glycolysis / Gluconeogenesis</text>
<rect x="389.2" y="373.35" width="59.8" height="3.3" fill="#6f9cd3"/>
<text x="362.5" y="376.91" font-size="5.3" text-anchor="end" fill="#0a0a0a" transform="matrix(1 0.000873 0 1 0 -0.3163)">Proteasome</text>
<rect x="379.2" y="383.45" width="69.8" height="3.3" fill="#6f9cd3"/>
<text x="362.5" y="387.01" font-size="5.3" text-anchor="end" fill="#0a0a0a" transform="matrix(1 0.000873 0 1 0 -0.3163)">Pentose phosphate pathway</text>
<line x1="449" y1="337" x2="449" y2="390.8" stroke="#050505" stroke-width="1.1"/>
<line x1="446" y1="339.5" x2="449" y2="339.5" stroke="#050505" stroke-width="0.9"/>
<line x1="446" y1="349.6" x2="449" y2="349.6" stroke="#050505" stroke-width="0.9"/>
<line x1="446" y1="359.7" x2="449" y2="359.7" stroke="#050505" stroke-width="0.9"/>
<line x1="446" y1="369.8" x2="449" y2="369.8" stroke="#050505" stroke-width="0.9"/>
<line x1="446" y1="379.9" x2="449" y2="379.9" stroke="#050505" stroke-width="0.9"/>
<line x1="366" y1="390.2" x2="512.3" y2="390.2" stroke="#050505" stroke-width="1.3"/>
<line x1="368.6" y1="390.2" x2="368.6" y2="392.6" stroke="#050505" stroke-width="0.9"/>
<text x="368.6" y="401.7" font-size="5" text-anchor="middle" fill="#0a0a0a" transform="matrix(1 0.000873 0 1 0 -0.3217)">-4</text>
<line x1="388.7" y1="390.2" x2="388.7" y2="392.6" stroke="#050505" stroke-width="0.9"/>
<text x="388.7" y="401.7" font-size="5" text-anchor="middle" fill="#0a0a0a" transform="matrix(1 0.000873 0 1 0 -0.3392)">-3</text>
<line x1="408.8" y1="390.2" x2="408.8" y2="392.6" stroke="#050505" stroke-width="0.9"/>
<text x="408.8" y="401.7" font-size="5" text-anchor="middle" fill="#0a0a0a" transform="matrix(1 0.000873 0 1 0 -0.3567)">-2</text>
<line x1="428.9" y1="390.2" x2="428.9" y2="392.6" stroke="#050505" stroke-width="0.9"/>
<text x="428.9" y="401.7" font-size="5" text-anchor="middle" fill="#0a0a0a" transform="matrix(1 0.000873 0 1 0 -0.3743)">-1</text>
<line x1="449" y1="390.2" x2="449" y2="392.6" stroke="#050505" stroke-width="0.9"/>
<text x="449" y="401.7" font-size="5" text-anchor="middle" fill="#0a0a0a" transform="matrix(1 0.000873 0 1 0 -0.3918)">0</text>
<line x1="469.1" y1="390.2" x2="469.1" y2="392.6" stroke="#050505" stroke-width="0.9"/>
<text x="469.1" y="401.7" font-size="5" text-anchor="middle" fill="#0a0a0a" transform="matrix(1 0.000873 0 1 0 -0.4094)">1</text>
<line x1="489.2" y1="390.2" x2="489.2" y2="392.6" stroke="#050505" stroke-width="0.9"/>
<text x="489.2" y="401.7" font-size="5" text-anchor="middle" fill="#0a0a0a" transform="matrix(1 0.000873 0 1 0 -0.4269)">2</text>
<line x1="509.3" y1="390.2" x2="509.3" y2="392.6" stroke="#050505" stroke-width="0.9"/>
<text x="509.3" y="401.7" font-size="5" text-anchor="middle" fill="#0a0a0a" transform="matrix(1 0.000873 0 1 0 -0.4444)">3</text>
<text x="444.1" y="322.1" font-size="8.6" text-anchor="middle" fill="#0a0a0a" transform="matrix(1 0.000873 0 1 0 -0.3876)" textLength="20.0" lengthAdjust="spacingAndGlyphs">KEGG</text>
<text x="409.5" y="331.8" font-size="5.2" text-anchor="middle" fill="#0a0a0a" transform="matrix(1 0.000873 0 1 0 -0.3574)">EPP</text>
<text x="479" y="331.8" font-size="5.2" text-anchor="middle" fill="#0a0a0a" transform="matrix(1 0.000873 0 1 0 -0.4180)">Retic</text>
<line x1="54.4" y1="433.7" x2="54.4" y2="592.8" stroke="#050505" stroke-width="1.2"/>
<line x1="53.8" y1="592.2" x2="301" y2="592.2" stroke="#050505" stroke-width="1.3"/>
<line x1="51.4" y1="592.2" x2="54.4" y2="592.2" stroke="#050505" stroke-width="1"/>
<text x="47.9" y="594.8" font-size="7.45" text-anchor="end" fill="#0a0a0a" transform="matrix(1 0.000873 0 1 0 -0.0418)">1E+02</text>
<line x1="51.4" y1="561.08" x2="54.4" y2="561.08" stroke="#050505" stroke-width="1"/>
<text x="47.9" y="563.68" font-size="7.45" text-anchor="end" fill="#0a0a0a" transform="matrix(1 0.000873 0 1 0 -0.0418)">1E+03</text>
<line x1="51.4" y1="529.96" x2="54.4" y2="529.96" stroke="#050505" stroke-width="1"/>
<text x="47.9" y="532.56" font-size="7.45" text-anchor="end" fill="#0a0a0a" transform="matrix(1 0.000873 0 1 0 -0.0418)">1E+04</text>
<line x1="51.4" y1="498.84" x2="54.4" y2="498.84" stroke="#050505" stroke-width="1"/>
<text x="47.9" y="501.44" font-size="7.45" text-anchor="end" fill="#0a0a0a" transform="matrix(1 0.000873 0 1 0 -0.0418)">1E+05</text>
<line x1="51.4" y1="467.72" x2="54.4" y2="467.72" stroke="#050505" stroke-width="1"/>
<text x="47.9" y="470.32" font-size="7.45" text-anchor="end" fill="#0a0a0a" transform="matrix(1 0.000873 0 1 0 -0.0418)">1E+06</text>
<line x1="51.4" y1="436.6" x2="54.4" y2="436.6" stroke="#050505" stroke-width="1"/>
<text x="47.9" y="439.2" font-size="7.45" text-anchor="end" fill="#0a0a0a" transform="matrix(1 0.000873 0 1 0 -0.0418)">1E+07</text>
<text transform="translate(17.1,513.0) rotate(-90)" font-size="10.2" text-anchor="middle" textLength="92.2" lengthAdjust="spacingAndGlyphs" style="stroke-width:0.1px" fill="#0a0a0a">Copy number per cell</text>
<text x="178.05" y="427.8" font-size="9.6" text-anchor="middle" fill="#0a0a0a" transform="matrix(1 0.000873 0 1 0 -0.1554)" textLength="42.6" lengthAdjust="spacingAndGlyphs" style="stroke-width:0.2px">Glycolysis</text>
<circle cx="71.3" cy="474.1" r="17.5" fill="#44769f" stroke="#376082" stroke-width="0.7"/>
<circle cx="87.2" cy="476.1" r="16.1" fill="#bd5e1d" stroke="#9a4d17" stroke-width="0.7"/>
<circle cx="104.5" cy="478.5" r="14.3" fill="#7f7f7f" stroke="#686868" stroke-width="0.7"/>
<circle cx="120.8" cy="482.2" r="12.9" fill="#c79a12" stroke="#a37e0e" stroke-width="0.7"/>
<circle cx="137" cy="487" r="10.9" fill="#2f5597" stroke="#26457b" stroke-width="0.7"/>
<circle cx="153.3" cy="502.5" r="6.2" fill="#548235" stroke="#446a2b" stroke-width="0.7"/>
<circle cx="169.8" cy="509.9" r="4.8" fill="#4a8bcb" stroke="#3c71a6" stroke-width="0.7"/>
<circle cx="186.1" cy="511.2" r="4.1" fill="#d9661c" stroke="#b15316" stroke-width="0.7"/>
<circle cx="202.7" cy="525.4" r="2.6" fill="#858585" stroke="none" stroke-width="1"/>
<circle cx="219.1" cy="525.6" r="2.7" fill="#e9ad0c" stroke="none" stroke-width="1"/>
<circle cx="235.5" cy="532.9" r="2.1" fill="#2e58a6" stroke="none" stroke-width="1"/>
<circle cx="252.3" cy="534.7" r="1.7" fill="#5fa83d" stroke="none" stroke-width="1"/>
<circle cx="252.3" cy="539.4" r="1.5" fill="#4e9a34" stroke="none" stroke-width="1"/>
<circle cx="268.6" cy="536.7" r="1.7" fill="#3a62b5" stroke="none" stroke-width="1"/>
<circle cx="268.6" cy="545.2" r="1.4" fill="#4a90d9" stroke="none" stroke-width="1"/>
<circle cx="285.2" cy="561.2" r="1" fill="#dd6a22" stroke="none" stroke-width="1"/>
<circle cx="71.1" cy="470" r="19.05" fill="none" stroke="#5ba0e0" stroke-width="1.5"/>
<circle cx="87.3" cy="474.2" r="16.35" fill="none" stroke="#ed7d31" stroke-width="1.5"/>
<circle cx="104.4" cy="473.5" r="16.55" fill="none" stroke="#a5a5a5" stroke-width="1.5"/>
<circle cx="120.5" cy="477.4" r="14.55" fill="none" stroke="#ffc000" stroke-width="1.5"/>
<circle cx="136.9" cy="484.5" r="11.6" fill="none" stroke="#4472c4" stroke-width="1.5"/>
<circle cx="153.2" cy="495.3" r="7.1" fill="none" stroke="#70ad47" stroke-width="1.5"/>
<circle cx="169.9" cy="489.4" r="9.25" fill="none" stroke="#5b9bd5" stroke-width="1.5"/>
<circle cx="186.2" cy="508.4" r="3.95" fill="none" stroke="#ed7d31" stroke-width="1.3"/>
<circle cx="202.7" cy="520.7" r="2.3" fill="none" stroke="#a5a5a5" stroke-width="1.2"/>
<circle cx="219.1" cy="514.7" r="2.9" fill="none" stroke="#f0b400" stroke-width="1.4"/>
<circle cx="235.6" cy="525.8" r="1.85" fill="none" stroke="#3a62b5" stroke-width="1.1"/>
<circle cx="285.2" cy="561.2" r="1.3" fill="none" stroke="#ed7d31" stroke-width="0.9"/>
<circle cx="306.8" cy="441.8" r="2.7" fill="#41719c" stroke="none" stroke-width="1"/>
<text x="312.7" y="444.4" font-size="7" text-anchor="start" fill="#0a0a0a" transform="matrix(1 0.000873 0 1 0 -0.2729)">GAPDH</text>
<circle cx="306.8" cy="452.75" r="2.7" fill="#bf5a1c" stroke="none" stroke-width="1"/>
<text x="312.7" y="455.35" font-size="7" text-anchor="start" fill="#0a0a0a" transform="matrix(1 0.000873 0 1 0 -0.2729)">BPGM</text>
<circle cx="306.8" cy="463.7" r="2.7" fill="#7b7b7b" stroke="none" stroke-width="1"/>
<text x="312.7" y="466.3" font-size="7" text-anchor="start" fill="#0a0a0a" transform="matrix(1 0.000873 0 1 0 -0.2729)">TPI1</text>
<circle cx="306.8" cy="474.65" r="2.7" fill="#bf9000" stroke="none" stroke-width="1"/>
<text x="312.7" y="477.25" font-size="7" text-anchor="start" fill="#0a0a0a" transform="matrix(1 0.000873 0 1 0 -0.2729)">ALDOA</text>
<circle cx="306.8" cy="485.6" r="2.7" fill="#2f5597" stroke="none" stroke-width="1"/>
<text x="312.7" y="488.2" font-size="7" text-anchor="start" fill="#0a0a0a" transform="matrix(1 0.000873 0 1 0 -0.2729)">PGK1</text>
<circle cx="306.8" cy="496.55" r="2.7" fill="#548235" stroke="none" stroke-width="1"/>
<text x="312.7" y="499.15" font-size="7" text-anchor="start" fill="#0a0a0a" transform="matrix(1 0.000873 0 1 0 -0.2729)">ENO1</text>
<circle cx="306.8" cy="507.5" r="2.7" fill="#4a8bcb" stroke="none" stroke-width="1"/>
<text x="312.7" y="510.1" font-size="7" text-anchor="start" fill="#0a0a0a" transform="matrix(1 0.000873 0 1 0 -0.2729)">PKLR</text>
<circle cx="306.8" cy="518.45" r="2.7" fill="#d9661c" stroke="none" stroke-width="1"/>
<text x="312.7" y="521.05" font-size="7" text-anchor="start" fill="#0a0a0a" transform="matrix(1 0.000873 0 1 0 -0.2729)">PGAM1</text>
<circle cx="306.8" cy="529.4" r="2.7" fill="#858585" stroke="none" stroke-width="1"/>
<text x="312.7" y="532" font-size="7" text-anchor="start" fill="#0a0a0a" transform="matrix(1 0.000873 0 1 0 -0.2729)">GPI</text>
<circle cx="306.8" cy="540.35" r="2.7" fill="#e9ad0c" stroke="none" stroke-width="1"/>
<text x="312.7" y="542.95" font-size="7" text-anchor="start" fill="#0a0a0a" transform="matrix(1 0.000873 0 1 0 -0.2729)">PFKL</text>
<circle cx="306.8" cy="551.3" r="2.7" fill="#2e58a6" stroke="none" stroke-width="1"/>
<text x="312.7" y="553.9" font-size="7" text-anchor="start" fill="#0a0a0a" transform="matrix(1 0.000873 0 1 0 -0.2729)">ALDOC</text>
<circle cx="306.8" cy="562.25" r="2.7" fill="#4e9a34" stroke="none" stroke-width="1"/>
<text x="312.7" y="564.85" font-size="7" text-anchor="start" fill="#0a0a0a" transform="matrix(1 0.000873 0 1 0 -0.2729)">ENO2</text>
<circle cx="306.8" cy="573.2" r="2.7" fill="#4a90d9" stroke="none" stroke-width="1"/>
<text x="312.7" y="575.8" font-size="7" text-anchor="start" fill="#0a0a0a" transform="matrix(1 0.000873 0 1 0 -0.2729)">PFKM</text>
<circle cx="306.8" cy="584.15" r="2.7" fill="#dd6a22" stroke="none" stroke-width="1"/>
<text x="312.7" y="586.75" font-size="7" text-anchor="start" fill="#0a0a0a" transform="matrix(1 0.000873 0 1 0 -0.2729)">PKM</text>
<rect x="360.6" y="433.05" width="89.8" height="3.9" fill="#6f9cd3"/>
<text x="456.8" y="436.75" font-size="4.8" text-anchor="start" fill="#0a0a0a" transform="matrix(1 0.000873 0 1 0 -0.3986)">PKM</text>
<rect x="365" y="443.07" width="85.4" height="3.9" fill="#6f9cd3"/>
<text x="456.8" y="446.77" font-size="4.8" text-anchor="start" fill="#0a0a0a" transform="matrix(1 0.000873 0 1 0 -0.3986)">PKLR</text>
<rect x="405.4" y="453.09" width="45" height="3.9" fill="#6f9cd3"/>
<text x="456.8" y="456.79" font-size="4.8" text-anchor="start" fill="#0a0a0a" transform="matrix(1 0.000873 0 1 0 -0.3986)">PFKL</text>
<rect x="415.5" y="463.11" width="34.9" height="3.9" fill="#6f9cd3"/>
<text x="456.8" y="466.81" font-size="4.8" text-anchor="start" fill="#0a0a0a" transform="matrix(1 0.000873 0 1 0 -0.3986)">PFKM</text>
<rect x="421.3" y="473.13" width="29.1" height="3.9" fill="#6f9cd3"/>
<text x="456.8" y="476.83" font-size="4.8" text-anchor="start" fill="#0a0a0a" transform="matrix(1 0.000873 0 1 0 -0.3986)">ENO1</text>
<rect x="422" y="483.15" width="28.4" height="3.9" fill="#6f9cd3"/>
<text x="456.8" y="486.85" font-size="4.8" text-anchor="start" fill="#0a0a0a" transform="matrix(1 0.000873 0 1 0 -0.3986)">ALDOC</text>
<rect x="430" y="493.17" width="20.4" height="3.9" fill="#6f9cd3"/>
<text x="456.8" y="496.87" font-size="4.8" text-anchor="start" fill="#0a0a0a" transform="matrix(1 0.000873 0 1 0 -0.3986)">TPI1</text>
<rect x="430.7" y="503.19" width="19.7" height="3.9" fill="#6f9cd3"/>
<text x="456.8" y="506.89" font-size="4.8" text-anchor="start" fill="#0a0a0a" transform="matrix(1 0.000873 0 1 0 -0.3986)">ALDOA</text>
<rect x="431" y="513.21" width="19.4" height="3.9" fill="#6f9cd3"/>
<text x="456.8" y="516.91" font-size="4.8" text-anchor="start" fill="#0a0a0a" transform="matrix(1 0.000873 0 1 0 -0.3986)">ENO2</text>
<rect x="432.1" y="523.23" width="18.3" height="3.9" fill="#6f9cd3"/>
<text x="456.8" y="526.93" font-size="4.8" text-anchor="start" fill="#0a0a0a" transform="matrix(1 0.000873 0 1 0 -0.3986)">GPI</text>
<rect x="434.5" y="533.25" width="15.9" height="3.9" fill="#6f9cd3"/>
<text x="456.8" y="536.95" font-size="4.8" text-anchor="start" fill="#0a0a0a" transform="matrix(1 0.000873 0 1 0 -0.3986)">GAPDH</text>
<rect x="435.5" y="543.27" width="14.9" height="3.9" fill="#6f9cd3"/>
<text x="456.8" y="546.97" font-size="4.8" text-anchor="start" fill="#0a0a0a" transform="matrix(1 0.000873 0 1 0 -0.3986)">PGK1</text>
<rect x="438" y="553.29" width="12.4" height="3.9" fill="#6f9cd3"/>
<text x="456.8" y="556.99" font-size="4.8" text-anchor="start" fill="#0a0a0a" transform="matrix(1 0.000873 0 1 0 -0.3986)">PGAM1</text>
<rect x="443.1" y="563.31" width="7.3" height="3.9" fill="#6f9cd3"/>
<text x="456.8" y="567.01" font-size="4.8" text-anchor="start" fill="#0a0a0a" transform="matrix(1 0.000873 0 1 0 -0.3986)">BPGM</text>
<line x1="450.4" y1="426.9" x2="450.4" y2="570.3" stroke="#050505" stroke-width="1.2"/>
<line x1="450.4" y1="429.8" x2="453.6" y2="429.8" stroke="#050505" stroke-width="1"/>
<line x1="450.4" y1="439.82" x2="453.6" y2="439.82" stroke="#050505" stroke-width="1"/>
<line x1="450.4" y1="449.84" x2="453.6" y2="449.84" stroke="#050505" stroke-width="1"/>
<line x1="450.4" y1="459.86" x2="453.6" y2="459.86" stroke="#050505" stroke-width="1"/>
<line x1="450.4" y1="469.88" x2="453.6" y2="469.88" stroke="#050505" stroke-width="1"/>
<line x1="450.4" y1="479.9" x2="453.6" y2="479.9" stroke="#050505" stroke-width="1"/>
<line x1="450.4" y1="489.92" x2="453.6" y2="489.92" stroke="#050505" stroke-width="1"/>
<line x1="450.4" y1="499.94" x2="453.6" y2="499.94" stroke="#050505" stroke-width="1"/>
<line x1="450.4" y1="509.96" x2="453.6" y2="509.96" stroke="#050505" stroke-width="1"/>
<line x1="450.4" y1="519.98" x2="453.6" y2="519.98" stroke="#050505" stroke-width="1"/>
<line x1="450.4" y1="530" x2="453.6" y2="530" stroke="#050505" stroke-width="1"/>
<line x1="450.4" y1="540.02" x2="453.6" y2="540.02" stroke="#050505" stroke-width="1"/>
<line x1="450.4" y1="550.04" x2="453.6" y2="550.04" stroke="#050505" stroke-width="1"/>
<line x1="450.4" y1="560.06" x2="453.6" y2="560.06" stroke="#050505" stroke-width="1"/>
<line x1="352" y1="569.8" x2="450.7" y2="569.8" stroke="#050505" stroke-width="1.3"/>
<line x1="355" y1="569.8" x2="355" y2="572.6" stroke="#050505" stroke-width="0.9"/>
<text x="355" y="581.9" font-size="5" text-anchor="middle" fill="#0a0a0a" transform="matrix(1 0.000873 0 1 0 -0.3098)">-2.5</text>
<line x1="392.8" y1="569.8" x2="392.8" y2="572.6" stroke="#050505" stroke-width="0.9"/>
<text x="392.8" y="581.9" font-size="5" text-anchor="middle" fill="#0a0a0a" transform="matrix(1 0.000873 0 1 0 -0.3428)">-1.5</text>
<line x1="430.8" y1="569.8" x2="430.8" y2="572.6" stroke="#050505" stroke-width="0.9"/>
<text x="430.8" y="581.9" font-size="5" text-anchor="middle" fill="#0a0a0a" transform="matrix(1 0.000873 0 1 0 -0.3759)">-0.5</text>
<text x="376.0" y="592.6" font-size="7.3" fill="#0a0a0a">Log<tspan font-size="5" dy="2">2</tspan><tspan dy="-2">(EPP/retic)</tspan></text>
</svg>
</body></html>
